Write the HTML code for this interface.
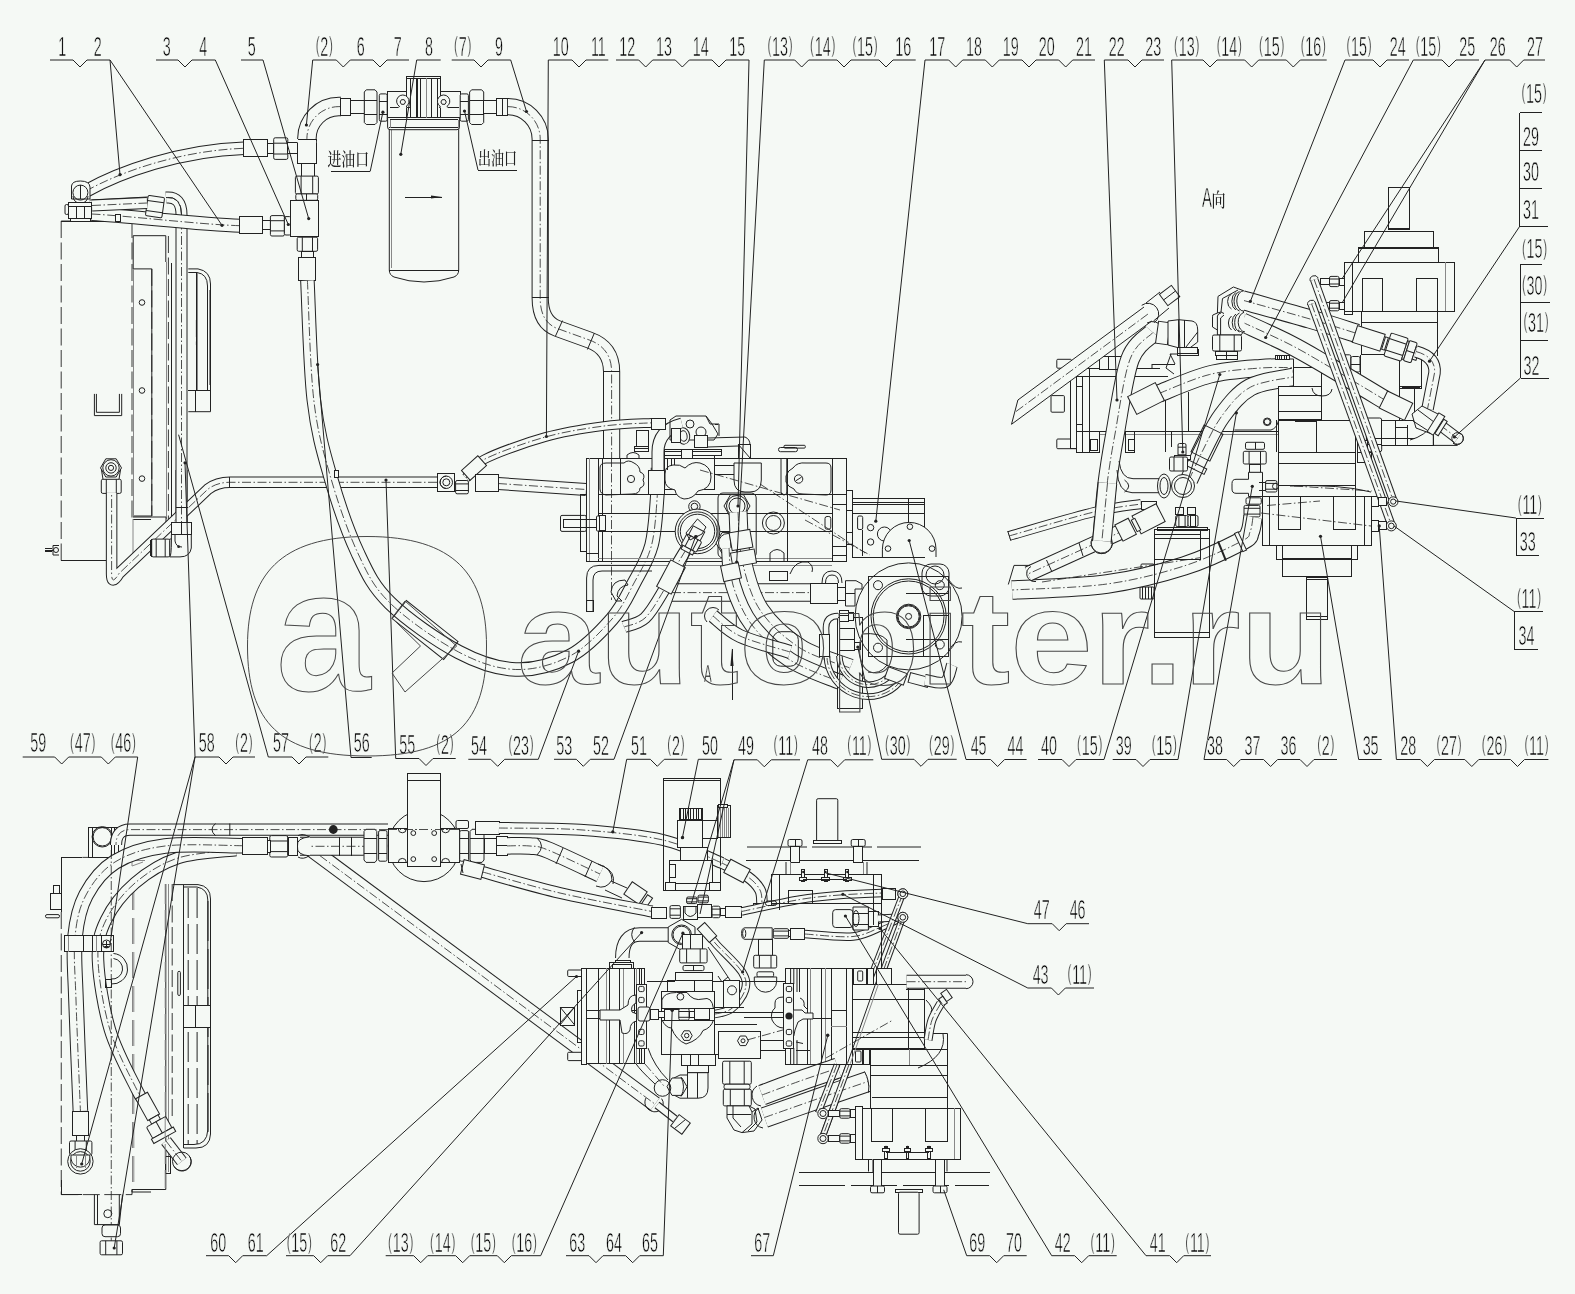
<!DOCTYPE html>
<html lang="zh"><head><meta charset="utf-8"><title>Hydraulic system diagram</title>
<style>
html,body{margin:0;padding:0;background:#f5f9f5;}
body{width:1575px;height:1294px;overflow:hidden;}
svg{display:block;will-change:transform;}
.s{fill:none;stroke:#222;stroke-width:1;}
.f{fill:#f5f9f5;stroke:#222;stroke-width:1;}
.t{fill:none;stroke:#222;stroke-linecap:butt;stroke-linejoin:round;}
.ti{fill:none;stroke:#f5f9f5;stroke-linecap:butt;stroke-linejoin:round;}
.c{fill:none;stroke:#222;stroke-width:.8;stroke-dasharray:9 2.5 1.5 2.5;}
.d{fill:none;stroke:#222;stroke-width:.9;stroke-dasharray:17 4.5;}
.g{fill:none;stroke:#888;stroke-width:1;}
.l{fill:none;stroke:#222;stroke-width:1;}
.dot{fill:#222;stroke:none;}
.n{font-family:"Liberation Sans",sans-serif;font-size:27px;fill:#000;stroke:#f5f9f5;stroke-width:.6px;text-anchor:middle;}
.z{font-family:"Liberation Sans","Noto Sans CJK SC",sans-serif;font-size:15px;fill:#222;stroke:#f5f9f5;stroke-width:.5px;}
.pn{font-size:22px;}
.zs{font-family:"Liberation Serif","Noto Serif CJK SC",serif;font-size:18px;font-weight:500;fill:#222;}
.wm{font-family:"Liberation Sans",sans-serif;font-weight:bold;font-size:133px;fill:none;stroke:#484848;stroke-width:1;}
.wl{fill:none;stroke:#484848;stroke-width:1;}
</style></head><body>
<svg width="1575" height="1294" viewBox="0 0 1575 1294">
<rect x="0" y="0" width="1575" height="1294" fill="#f5f9f5"/>
<g id="p_cooler_top">
<path class="d" d="M61.2 221L61.2 560.7"/>
<path class="s" shape-rendering="crispEdges" d="M61.2 560.7L106 560.7"/>
<path class="d" d="M61.2 221L132 221"/>
<path class="s" shape-rendering="crispEdges" d="M61.2 221L132 221"/>
<path class="d" d="M132 221L132 519"/>
<path class="s" d="M133.2 268.9L133.2 235.7L165.8 235.7L165.8 262"/>
<path class="s" d="M133.2 268.9L151.8 268.9L151.8 516L133.2 516"/>
<path class="g" shape-rendering="crispEdges" d="M133.2 268.9L133.2 516"/>
<path class="d" d="M151.8 268.9L151.8 516"/>
<circle class="s" cx="142" cy="302.5" r="2.8"/>
<circle class="s" cx="142" cy="390.5" r="2.8"/>
<circle class="s" cx="142" cy="478.6" r="2.8"/>
<path class="d" d="M168.4 236L168.4 519"/>
<path class="s" shape-rendering="crispEdges" d="M171.4 262.5L171.4 519"/>
<path class="g" shape-rendering="crispEdges" d="M166 262L166 519"/>
<path class="s" d="M133 517L166 517L166 535"/>
<path class="s" shape-rendering="crispEdges" d="M133 519.5L151 519.5"/>
<path class="g" d="M133 519L133 556L140 556"/>
<path class="s" d="M94.4 393.9L94.4 415.6L121.7 415.6L121.7 393.9"/>
<path class="s" d="M96.4 393.9L96.4 412.3L119.4 412.3L119.4 393.9"/>
<path class="s" d="M188.3 268.9L198 268.9Q210.5 271 210.5 284L210.5 411.7L188.3 411.7"/>
<path class="s" d="M188.3 272.5L197 272.5Q207.5 274 207.5 286L207.5 390"/>
<path class="s" shape-rendering="crispEdges" d="M196.4 272.5L196.4 390"/>
<path class="g" shape-rendering="crispEdges" d="M197.6 272.5L197.6 390"/>
<path class="s" shape-rendering="crispEdges" d="M188.3 390L210.5 390"/>
<path class="s" shape-rendering="crispEdges" d="M195 390L195 411.7"/>
<path class="g" shape-rendering="crispEdges" d="M209 290L209 385"/>
<path class="d" d="M196.4 320L196.4 345"/>
<path class="s" d="M59 545.5L53 545.5L53 555L59 555"/>
<circle class="s" cx="56" cy="550" r="2.5"/>
<path class="s" shape-rendering="crispEdges" d="M45 550L53 550"/>
<path class="s" d="M45 548.5L52 548.5M45 551.5L52 551.5"/>
<path class="t" stroke-width="12" d="M181.5 524L181.5 215Q181.5 196 166 197.5"/>
<path class="ti" stroke-width="10" d="M181.5 524L181.5 215Q181.5 196 166 197.5"/>
<path class="c" d="M181.5 524L181.5 215Q181.5 196 166 197.5"/>
<path class="s" shape-rendering="crispEdges" d="M175.5 227L187.5 227"/>
<path class="s" shape-rendering="crispEdges" d="M175.5 507L187.5 507"/>
<path class="t" stroke-width="9" d="M111.6 505L111.6 493"/>
<path class="ti" stroke-width="7" d="M111.6 505L111.6 493"/>
<path class="s" shape-rendering="crispEdges" d="M105.9 505L117.3 505"/>
<path class="f" d="M121.5 467.9L116.2 477L105.8 477L100.5 467.9L105.8 458.8L116.2 458.8Z"/>
<circle class="s" cx="111" cy="467.9" r="8.2"/>
<circle class="s" cx="111" cy="467.9" r="5.2"/>
<circle class="s" cx="111" cy="467.9" r="2.6"/>
<path class="s" d="M101.5 470L103 479.3M120.5 470L119 479.3"/>
<g transform="translate(111.3 486.3) rotate(90)"><rect class="f" x="-7" y="-9.9" width="14.1" height="19.9" rx="1.5"/><path class="s" d="M-7 -5L7 -5M-7 5L7 5"/></g>
<path class="t" stroke-width="11.5" d="M437 482.3L230 482.3Q217 482.3 208 489.1L119 573.5Q111.6 586 111.6 574L111.6 493"/>
<path class="ti" stroke-width="9.5" d="M437 482.3L230 482.3Q217 482.3 208 489.1L119 573.5Q111.6 586 111.6 574L111.6 493"/>
<path class="c" d="M437 482.3L230 482.3Q217 482.3 208 489.1L119 573.5Q111.6 586 111.6 574L111.6 493"/>
<path class="t" stroke-width="12" d="M181.5 530L181.5 470"/>
<path class="ti" stroke-width="10" d="M181.5 530L181.5 470"/>
<path class="c" d="M181.5 530L181.5 470"/>
<path class="s" shape-rendering="crispEdges" d="M175.5 507L187.5 507"/>
<path class="s" shape-rendering="crispEdges" d="M229 476.5L229 488"/>
<rect class="f" shape-rendering="crispEdges" x="171.4" y="522" width="20" height="12.7"/>
<path class="s" shape-rendering="crispEdges" d="M181 522L181 534.7"/>
<path class="f" d="M171.4 534.7L171.4 540Q171.4 556.9 169.6 556.9L169.6 539L171.4 539M191.3 534.7L191.3 548Q190 556.9 180 556.9L169.6 556.9"/>
<path class="s" d="M175 534.7L175 541Q176 547 182 547"/>
<circle class="dot" cx="178.6" cy="546.7" r="1.4"/>
<g transform="translate(160.7 548) rotate(90)"><rect class="f" x="-8.9" y="-9" width="17.8" height="18" rx="1.5"/><path class="s" d="M-8.9 -4.5L8.9 -4.5M-8.9 4.5L8.9 4.5"/></g>
<path class="s" shape-rendering="crispEdges" d="M151.8 539L151.8 557"/>
<path class="s" shape-rendering="crispEdges" d="M150 540L150 556"/>
<rect class="f" shape-rendering="crispEdges" x="437.8" y="473.4" width="17" height="17.8"/>
<circle class="s" cx="446.3" cy="482.3" r="6.2"/>
<circle class="s" cx="446.3" cy="482.3" r="3.5"/>
<path class="s" d="M446.3 476A6.2 6.2 0 0 0 446.3 488.5"/>
<g transform="translate(462 487.2) rotate(0)"><rect class="f" x="-6.4" y="-6.7" width="12.8" height="13.3" rx="1.5"/><path class="s" d="M-6.4 -3.3L6.4 -3.3M-6.4 3.3L6.4 3.3"/></g>
<rect class="s" shape-rendering="crispEdges" x="334" y="470" width="3.5" height="6.5"/>
<path class="t" stroke-width="13.5" d="M86 191C120 172 180 150.5 244 148.3"/>
<path class="ti" stroke-width="11.5" d="M86 191C120 172 180 150.5 244 148.3"/>
<path class="c" d="M86 191C120 172 180 150.5 244 148.3"/>
<rect class="f" shape-rendering="crispEdges" x="243.6" y="139.8" width="24.3" height="17.1"/>
<rect class="f" shape-rendering="crispEdges" x="267.9" y="143.5" width="5.8" height="9.7"/>
<g transform="translate(280.7 148.6) rotate(0)"><rect class="f" x="-7" y="-10.8" width="14.1" height="21.6" rx="1.5"/><path class="s" d="M-7 -5.4L7 -5.4M-7 5.4L7 5.4"/></g>
<path class="t" stroke-width="12" d="M90 205.5L148 202.5"/>
<path class="ti" stroke-width="10" d="M90 205.5L148 202.5"/>
<path class="c" d="M90 205.5L148 202.5"/>
<path class="t" stroke-width="14" d="M91.8 214C130 216 200 224.5 240 225.7"/>
<path class="ti" stroke-width="12" d="M91.8 214C130 216 200 224.5 240 225.7"/>
<path class="c" d="M91.8 214C130 216 200 224.5 240 225.7"/>
<rect class="f" shape-rendering="crispEdges" x="239.8" y="216.8" width="23" height="16.6"/>
<rect class="f" shape-rendering="crispEdges" x="262.8" y="220.5" width="7.6" height="9.2"/>
<g transform="translate(277.4 225.8) rotate(0)"><rect class="f" x="-7" y="-10.2" width="14" height="20.4" rx="1.5"/><path class="s" d="M-7 -5.1L7 -5.1M-7 5.1L7 5.1"/></g>
<rect class="f" x="284.4" y="216.6" width="6.4" height="18.4" rx="1.5"/>
<path class="s" d="M166 197.5Q181.5 196 181.5 215"/>
<g transform="translate(155 206.6) rotate(8)"><rect class="f" x="-8.3" y="-10.2" width="16.6" height="20.4" rx="1.5"/><path class="s" d="M-8.3 -5.1L8.3 -5.1M-8.3 5.1L8.3 5.1"/></g>
<path class="t" stroke-width="12" d="M92 205.5L147 203"/>
<path class="ti" stroke-width="10" d="M92 205.5L147 203"/>
<path class="c" d="M92 205.5L147 203"/>
<path class="f" d="M71.5 186Q72 181 80.4 181Q89.5 181 90 187L90 199L71.5 199Z"/>
<circle class="s" cx="80.4" cy="192.6" r="7.5"/>
<path class="s" d="M73 196A7.5 7.5 0 0 0 88 196"/>
<path class="s" shape-rendering="crispEdges" d="M80.4 185L80.4 199"/>
<rect class="f" shape-rendering="crispEdges" x="68.5" y="202.8" width="23.3" height="15.3"/>
<path class="s" shape-rendering="crispEdges" d="M68.5 206.5L91.8 206.5"/>
<path class="s" shape-rendering="crispEdges" d="M76 206.5L76 218"/>
<path class="s" shape-rendering="crispEdges" d="M84 206.5L84 218"/>
<rect class="f" x="65" y="204.5" width="3.5" height="10" rx="1.5"/>
<rect class="f" shape-rendering="crispEdges" x="70" y="218" width="20" height="3"/>
<rect class="f" shape-rendering="crispEdges" x="115" y="214" width="5" height="7"/>
<path class="t" stroke-width="19.5" d="M306.9 142L306.9 138.6A32 32 0 0 1 338.9 106.6L341 106.6"/>
<path class="ti" stroke-width="17.5" d="M306.9 142L306.9 138.6A32 32 0 0 1 338.9 106.6L341 106.6"/>
<path class="c" d="M306.9 142L306.9 138.6A32 32 0 0 1 338.9 106.6L341 106.6"/>
<rect class="f" shape-rendering="crispEdges" x="340.6" y="98.2" width="10.2" height="17.1"/>
<rect class="f" shape-rendering="crispEdges" x="350.8" y="100" width="13.5" height="13.5"/>
<path class="f" d="M366.3 89.8L375 89.8L377 92L377 122.5L375 124.5L366.3 124.5L364.3 122.5L364.3 92Z"/>
<path class="s" shape-rendering="crispEdges" d="M364.3 100L377 100"/>
<path class="s" shape-rendering="crispEdges" d="M364.3 114.5L377 114.5"/>
<rect class="f" x="379.3" y="93.9" width="7.9" height="27.3" rx="1.5"/>
<path class="s" shape-rendering="crispEdges" d="M379.3 101L387.2 101"/>
<path class="s" shape-rendering="crispEdges" d="M379.3 114L387.2 114"/>
<path class="s" d="M297.2 142.9L287.8 142.9M297.2 153L287.8 153"/>
<rect class="f" shape-rendering="crispEdges" x="287.8" y="142.9" width="9.4" height="10.1"/>
<rect class="f" shape-rendering="crispEdges" x="297.2" y="139" width="19.1" height="24.3"/>
<path class="ti" d="M297.2 142L316.3 142"/>
<path class="ti" shape-rendering="crispEdges" d="M297.2 139L297.2 142"/>
<rect class="f" shape-rendering="crispEdges" x="301" y="163.3" width="13.3" height="12.7"/>
<g transform="translate(306.9 185) rotate(90)"><rect class="f" x="-8.9" y="-11.5" width="17.9" height="23" rx="1.5"/><path class="s" d="M-8.9 -5.8L8.9 -5.8M-8.9 5.8L8.9 5.8"/></g>
<rect class="f" x="295.8" y="193.9" width="21.9" height="6.4" rx="1.5"/>
<path class="s" shape-rendering="crispEdges" d="M306.9 193.9L306.9 200.3"/>
<rect class="f" shape-rendering="crispEdges" x="290.8" y="200.3" width="28.1" height="35.7"/>
<g transform="translate(307.4 244.2) rotate(90)"><rect class="f" x="-7" y="-10.2" width="14.1" height="20.4" rx="1.5"/><path class="s" d="M-7 -5.1L7 -5.1M-7 5.1L7 5.1"/></g>
<rect class="f" shape-rendering="crispEdges" x="301" y="251.3" width="12.8" height="6.4"/>
<rect class="f" shape-rendering="crispEdges" x="298.5" y="257.7" width="17.3" height="22.9"/>
<path class="t" stroke-width="14.5" d="M307.4 280.6C308.5 300.5 310 367.4 313.8 400C317.6 432.6 323.1 451 330.4 476.5C337.7 502 347.9 531.9 357.8 553C367.7 574.1 373.2 586.5 390 603C406.8 619.5 437.7 640.9 458.6 652C479.6 663.1 497.1 668.8 515.7 669.5C534.3 670.2 554 664.4 570 656C586 647.6 601.3 631.2 612 619C622.7 606.8 627.4 595.3 634 583C640.6 570.7 647.7 560 651.6 545C655.5 530 656.4 505.8 657.5 493C658.6 480.2 657.9 472.2 658 468"/>
<path class="ti" stroke-width="12.5" d="M307.4 280.6C308.5 300.5 310 367.4 313.8 400C317.6 432.6 323.1 451 330.4 476.5C337.7 502 347.9 531.9 357.8 553C367.7 574.1 373.2 586.5 390 603C406.8 619.5 437.7 640.9 458.6 652C479.6 663.1 497.1 668.8 515.7 669.5C534.3 670.2 554 664.4 570 656C586 647.6 601.3 631.2 612 619C622.7 606.8 627.4 595.3 634 583C640.6 570.7 647.7 560 651.6 545C655.5 530 656.4 505.8 657.5 493C658.6 480.2 657.9 472.2 658 468"/>
<path class="c" d="M307.4 280.6C308.5 300.5 310 367.4 313.8 400C317.6 432.6 323.1 451 330.4 476.5C337.7 502 347.9 531.9 357.8 553C367.7 574.1 373.2 586.5 390 603C406.8 619.5 437.7 640.9 458.6 652C479.6 663.1 497.1 668.8 515.7 669.5C534.3 670.2 554 664.4 570 656C586 647.6 601.3 631.2 612 619C622.7 606.8 627.4 595.3 634 583C640.6 570.7 647.7 560 651.6 545C655.5 530 656.4 505.8 657.5 493C658.6 480.2 657.9 472.2 658 468"/>
<rect class="s" x="-33" y="-11.5" width="66" height="23" transform="translate(425 630) rotate(38.5)"/>
<rect class="f" shape-rendering="crispEdges" x="334" y="470" width="4" height="7"/>
</g>
<g id="p_filter_top">
<path class="f" d="M389.3 127.5L389.3 270Q389.3 275 394 277Q424 287 454 277Q458.7 275 458.7 270L458.7 127.5"/>
<path class="s" shape-rendering="crispEdges" d="M389.3 270.4L458.7 270.4"/>
<path class="g" shape-rendering="crispEdges" d="M391 128L391 268"/>
<path class="s" shape-rendering="crispEdges" d="M405.4 197L442.3 197"/>
<path class="dot" d="M431 195.6L442.3 197L431 198.4Z"/>
<rect class="f" shape-rendering="crispEdges" x="387.5" y="91.8" width="72.7" height="25.7"/>
<path class="f" d="M387.6 117.5L459.4 117.5L459.4 127Q459.4 129.7 457 129.7L390 129.7Q387.6 129.7 387.6 127Z"/>
<path class="s" shape-rendering="crispEdges" d="M390 119.5L458 119.5"/>
<path class="s" shape-rendering="crispEdges" d="M388.5 127.6L458.5 127.6"/>
<path class="g" shape-rendering="crispEdges" d="M390 119.5L390 127.6"/>
<path class="g" shape-rendering="crispEdges" d="M458 119.5L458 127.6"/>
<rect class="f" shape-rendering="crispEdges" x="406.7" y="76" width="33.6" height="41.5"/>
<path class="s" shape-rendering="crispEdges" d="M406.7 78.3L440.3 78.3"/>
<path class="s" shape-rendering="crispEdges" d="M410.5 78.3L410.5 117.5"/>
<path class="s" shape-rendering="crispEdges" d="M416.2 78.3L416.2 117.5"/>
<path class="s" shape-rendering="crispEdges" d="M417.6 78.3L417.6 117.5"/>
<path class="s" shape-rendering="crispEdges" d="M420.6 78.3L420.6 117.5"/>
<path class="s" shape-rendering="crispEdges" d="M431.7 78.3L431.7 117.5"/>
<path class="s" shape-rendering="crispEdges" d="M437.5 78.3L437.5 117.5"/>
<path class="g" shape-rendering="crispEdges" d="M426.7 78.3L426.7 117.5"/>
<path class="s" shape-rendering="crispEdges" d="M389.5 107.5L398.2 107.5"/>
<path class="s" shape-rendering="crispEdges" d="M407.4 107.5L410.4 107.5"/>
<path class="s" shape-rendering="crispEdges" d="M440.3 107.5L439 107.5"/>
<path class="s" shape-rendering="crispEdges" d="M448.2 107.5L458.7 107.5"/>
<path class="f" d="M398.2 107.5L399.6 106.5A6.2 6.2 0 1 1 406.0 106.5L407.40000000000003 107.5"/>
<path class="s" d="M405.5 102L404.2 104.3L401.4 104.3L400.1 102L401.4 99.7L404.2 99.7Z"/>
<path class="f" d="M439.0 107.5L440.40000000000003 106.5A6.2 6.2 0 1 1 446.8 106.5L448.20000000000005 107.5"/>
<path class="s" d="M446.3 102L445 104.3L442.2 104.3L440.9 102L442.2 99.7L445 99.7Z"/>
<rect class="f" x="460.2" y="93.9" width="8.2" height="27.3" rx="1.5"/>
<path class="s" shape-rendering="crispEdges" d="M460.2 101L468.4 101"/>
<path class="s" shape-rendering="crispEdges" d="M460.2 114L468.4 114"/>
<path class="f" d="M471.6 89.8L481.7 89.8L483.7 92L483.7 122.5L481.7 124.5L471.6 124.5L469.6 122.5L469.6 92Z"/>
<path class="s" shape-rendering="crispEdges" d="M469.6 100L483.7 100"/>
<path class="s" shape-rendering="crispEdges" d="M469.6 114.5L483.7 114.5"/>
<rect class="f" shape-rendering="crispEdges" x="483.7" y="100" width="12.7" height="13.5"/>
<rect class="f" shape-rendering="crispEdges" x="496.4" y="98.2" width="11.5" height="17.1"/>
<path class="s" shape-rendering="crispEdges" d="M502 98.2L502 115.3"/>
<path class="t" stroke-width="17.2" d="M507.9 106.6A32.3 32.3 0 0 1 540.2 138.9L540.2 298Q540.2 322.3 557.4 328.5L589.3 340Q611.6 348 611.6 371.8L611.6 458"/>
<path class="ti" stroke-width="15.2" d="M507.9 106.6A32.3 32.3 0 0 1 540.2 138.9L540.2 298Q540.2 322.3 557.4 328.5L589.3 340Q611.6 348 611.6 371.8L611.6 458"/>
<path class="c" d="M507.9 106.6A32.3 32.3 0 0 1 540.2 138.9L540.2 298Q540.2 322.3 557.4 328.5L589.3 340Q611.6 348 611.6 371.8L611.6 458"/>
<path class="s" shape-rendering="crispEdges" d="M531.6 140.3L548.8 140.3"/>
<path class="s" shape-rendering="crispEdges" d="M531.6 297.9L548.8 297.9"/>
<path class="s" d="M555.5 336L562.5 320.6"/>
<path class="s" d="M587.4 349.5L594.4 333"/>
<path class="s" shape-rendering="crispEdges" d="M603 371.8L620.2 371.8"/>
<path class="l" shape-rendering="crispEdges" d="M330.6 171.4L370.2 171.4"/>
<path class="l" d="M370.2 171.4L382.9 112.2"/>
<circle class="dot" cx="382.9" cy="112.2" r="1.6"/>
<path class="l" shape-rendering="crispEdges" d="M478 170L516.8 170"/>
<path class="l" d="M478 170L464.5 111"/>
<circle class="dot" cx="464.5" cy="111" r="1.6"/>
</g>
<g id="p_pump_top">
<path class="t" stroke-width="9.8" d="M466 478C469 474.9 470.8 466.3 484 459.5C497.2 452.7 525.4 442.6 545.4 437C565.4 431.4 586.2 428.4 604 426C621.8 423.6 644 423.3 652 422.8"/>
<path class="ti" stroke-width="7.8" d="M466 478C469 474.9 470.8 466.3 484 459.5C497.2 452.7 525.4 442.6 545.4 437C565.4 431.4 586.2 428.4 604 426C621.8 423.6 644 423.3 652 422.8"/>
<path class="c" d="M466 478C469 474.9 470.8 466.3 484 459.5C497.2 452.7 525.4 442.6 545.4 437C565.4 431.4 586.2 428.4 604 426C621.8 423.6 644 423.3 652 422.8"/>
<rect class="f" x="-11" y="-6.5" width="22" height="13" transform="translate(474 468) rotate(-42)"/>
<path class="t" stroke-width="13" d="M498 483.5L586 489.5"/>
<path class="ti" stroke-width="11" d="M498 483.5L586 489.5"/>
<path class="c" d="M498 483.5L586 489.5"/>
<rect class="f" shape-rendering="crispEdges" x="475.8" y="474" width="22.4" height="17"/>
<rect class="f" shape-rendering="crispEdges" x="586.3" y="458" width="12" height="103.4"/>
<path class="g" shape-rendering="crispEdges" d="M589 458L589 561.4"/>
<rect class="s" shape-rendering="crispEdges" x="586.3" y="553" width="12" height="8.4"/>
<path class="s" shape-rendering="crispEdges" d="M598.3 458L832 458"/>
<path class="s" shape-rendering="crispEdges" d="M598.3 561.4L832 561.4"/>
<path class="s" shape-rendering="crispEdges" d="M598.3 494.4L832 494.4"/>
<path class="s" shape-rendering="crispEdges" d="M598.3 513.5L832 513.5"/>
<path class="s" shape-rendering="crispEdges" d="M598.3 531.4L832 531.4"/>
<path class="g" shape-rendering="crispEdges" d="M598.3 558.4L832 558.4"/>
<path class="s" shape-rendering="crispEdges" d="M602.5 458L602.5 561.4"/>
<path class="s" shape-rendering="crispEdges" d="M620.4 458L620.4 494"/>
<path class="c" d="M611.5 458L611.5 600"/>
<rect class="f" x="560.5" y="515.4" width="25.8" height="16" rx="1.5"/>
<rect class="s" shape-rendering="crispEdges" x="563.5" y="519.5" width="36" height="8"/>
<rect class="f" x="596.5" y="516" width="4" height="15" rx="1"/>
<rect class="f" shape-rendering="crispEdges" x="599.3" y="515.4" width="5.7" height="15.3"/>
<rect class="s" shape-rendering="crispEdges" x="580" y="494.4" width="6.3" height="57"/>
<path class="s" d="M600 468Q600 463 606 463L624 463Q628 459 634 463Q640 466 640 472Q646 474 643 480Q646 486 640 488Q640 494 632 494L606 495Q600 494 600 489Z"/>
<circle class="s" cx="631" cy="479" r="3.6"/>
<path class="s" d="M627 458L627 455Q633 450 639 455L639 458"/>
<rect class="f" shape-rendering="crispEdges" x="648.4" y="470" width="16" height="24.4"/>
<path class="t" stroke-width="13" d="M658 470L658 452Q658 430 682 424"/>
<path class="ti" stroke-width="11" d="M658 470L658 452Q658 430 682 424"/>
<rect class="f" shape-rendering="crispEdges" x="651" y="418.4" width="14.5" height="10.8"/>
<rect class="s" shape-rendering="crispEdges" x="664.4" y="455.5" width="50.4" height="33.8"/>
<path class="f" d="M665 474Q665 466 673 465Q680 464 685 468Q692 461 700 463Q711 466 711 477Q711 489 698 491Q693 499 684 499Q676 497 675 490Q665 488 665 480Z"/>
<path class="s" shape-rendering="crispEdges" d="M667 458L667 470"/>
<path class="s" shape-rendering="crispEdges" d="M671 458L671 466"/>
<path class="s" shape-rendering="crispEdges" d="M674.5 458L674.5 465"/>
<rect class="f" shape-rendering="crispEdges" x="636" y="430" width="12" height="16"/>
<rect class="f" shape-rendering="crispEdges" x="634" y="446" width="14" height="5"/>
<path class="s" shape-rendering="crispEdges" d="M634 448L648 448"/>
<path class="s" d="M670 420L676 416L706 416L712 424L718 434L714 440L670 440Z"/>
<ellipse class="f" cx="683.5" cy="436" rx="6.2" ry="8.2" transform="rotate(-8 683.5 436)"/>
<ellipse class="s" cx="683.5" cy="436" rx="3.6" ry="5.2" transform="rotate(-8 683.5 436)"/>
<rect class="f" shape-rendering="crispEdges" x="671" y="428" width="9" height="14"/>
<circle class="s" cx="690" cy="424" r="4"/>
<circle class="s" cx="701" cy="432" r="5"/>
<rect class="f" shape-rendering="crispEdges" x="694.5" y="435" width="13" height="12"/>
<rect class="f" shape-rendering="crispEdges" x="664.4" y="449" width="57" height="6.5"/>
<path class="s" shape-rendering="crispEdges" d="M664.4 451.5L721 451.5"/>
<rect class="f" shape-rendering="crispEdges" x="681" y="449" width="11" height="9"/>
<path class="s" d="M708 438L745 437Q750 439 750 445L750 458M708 447L738 446"/>
<rect class="f" shape-rendering="crispEdges" x="738" y="444" width="12" height="14"/>
<path class="s" d="M738 444L750 458"/>
<path class="s" shape-rendering="crispEdges" d="M715 424L718 424"/>
<path class="s" d="M706 416L710 424L719 424L719 436"/>
<path class="f" d="M734 463L761.3 463L761.3 480Q761.3 492 750 492L745 492Q734 492 734 480Z"/>
<path class="s" shape-rendering="crispEdges" d="M714.8 465L734 465"/>
<path class="s" shape-rendering="crispEdges" d="M714.8 474L734 474"/>
<circle class="s" cx="694.4" cy="506.5" r="5.7"/>
<circle class="s" cx="694.4" cy="506.5" r="3.3"/>
<circle class="f" cx="697.5" cy="531.4" r="22.3"/>
<circle class="s" cx="697.5" cy="531.4" r="19.5"/>
<circle class="s" cx="697.5" cy="531.4" r="17.2"/>
<rect class="s" x="718" y="493" width="38.2" height="65" rx="5"/>
<path class="f" d="M750 506L743.5 517.3L730.5 517.3L724 506L730.5 494.7L743.5 494.7Z"/>
<circle class="s" cx="737" cy="506" r="10.5"/>
<circle class="s" cx="737" cy="506" r="8"/>
<path class="f" d="M740 543L734 553.4L722 553.4L716 543L722 532.6L734 532.6Z"/>
<circle class="s" cx="728" cy="543" r="9.5"/>
<circle class="s" cx="773.4" cy="523" r="11"/>
<circle class="s" cx="773.4" cy="523" r="7.5"/>
<path class="s" shape-rendering="crispEdges" d="M787.4 458L787.4 561.4"/>
<path class="s" d="M781 458L781 492Q781 495 784 495Q786.8 495 786.8 492L786.8 458"/>
<path class="s" d="M786 476Q788 470 793 468Q797 462 806 463L826 463Q831 463 831 468L831 490Q831 495 826 495L803 494Q796 494 794 489Q788 487 786 482Z"/>
<circle class="s" cx="798.6" cy="479" r="4.2"/>
<path class="s" d="M795.5 481L801.7 477"/>
<rect class="s" x="778.5" y="447.5" width="19" height="4.2" rx="2"/>
<rect class="s" x="784" y="445.3" width="21.3" height="2.8" rx="1"/>
<rect class="f" shape-rendering="crispEdges" x="832" y="458" width="14.7" height="103.4"/>
<path class="s" shape-rendering="crispEdges" d="M832 494.4L846.7 494.4"/>
<path class="s" shape-rendering="crispEdges" d="M832 504L846.7 504"/>
<path class="s" shape-rendering="crispEdges" d="M832 546L846.7 546"/>
<path class="s" shape-rendering="crispEdges" d="M832 555L846.7 555"/>
<rect class="f" x="825" y="516.5" width="5.8" height="12.7" rx="2"/>
<rect class="f" shape-rendering="crispEdges" x="846.7" y="490" width="5.8" height="54"/>
<path class="s" shape-rendering="crispEdges" d="M846.7 510L852.5 510"/>
<path class="s" shape-rendering="crispEdges" d="M846.7 532L852.5 532"/>
<rect class="f" shape-rendering="crispEdges" x="852.5" y="498.2" width="72" height="58.8"/>
<path class="s" shape-rendering="crispEdges" d="M852.5 502L924.5 502"/>
<path class="s" shape-rendering="crispEdges" d="M852.5 504L924.5 504"/>
<path class="s" shape-rendering="crispEdges" d="M852.5 513.5L924.5 513.5"/>
<path class="s" shape-rendering="crispEdges" d="M908.6 498.2L908.6 522"/>
<rect class="f" x="857.6" y="516" width="5.1" height="13.5" rx="1.5"/>
<path class="s" shape-rendering="crispEdges" d="M862.7 529.5L862.7 556"/>
<circle class="s" cx="870.6" cy="527.6" r="3.2"/>
<circle class="s" cx="870.6" cy="542" r="3.2"/>
<circle class="s" cx="884.4" cy="534" r="7"/>
<path class="f" d="M882.4 557L882.4 549.2A26.8 26.8 0 0 1 936 549.2L936 557"/>
<circle class="s" cx="909.9" cy="526.7" r="2.8"/>
<circle class="s" cx="888" cy="548.6" r="2.8"/>
<circle class="s" cx="932" cy="548.6" r="2.8"/>
<path class="c" d="M700 470L840 510"/>
<path class="c" d="M760 484L865 553"/>
<path class="c" d="M805 520L870 555"/>
<path class="g" shape-rendering="crispEdges" d="M598.3 565L832 565"/>
<path class="s" d="M593 611.3L593 580Q593 571 602 571L652 571M586.6 611.3L586.6 578Q586.6 565.4 599 565.4L652 565.4"/>
<rect class="s" shape-rendering="crispEdges" x="586.6" y="600" width="6.4" height="11.3"/>
<path class="s" d="M611 592Q612 580 625 580L628 585Q618 586 617 596L622 601L616 601Z"/>
<path class="s" d="M770 561L770 553Q777 546 784 553L784 561"/>
<rect class="s" shape-rendering="crispEdges" x="769" y="571" width="18" height="9"/>
<path class="s" d="M790 574Q795 560 808 562Q814 566 812 572"/>
<path class="t" stroke-width="18.5" d="M672 592.6L810 592.6"/>
<path class="ti" stroke-width="16.5" d="M672 592.6L810 592.6"/>
<path class="c" d="M672 592.6L810 592.6"/>
<rect class="f" shape-rendering="crispEdges" x="810.4" y="583.3" width="27.4" height="20.4"/>
<rect class="f" shape-rendering="crispEdges" x="837.8" y="587" width="7.7" height="13"/>
<path class="f" d="M845.5 580.7L856 580.7L862 584L862 589L855 589L855 606L845.5 606Z"/>
<path class="s" shape-rendering="crispEdges" d="M845.5 593L855 593"/>
<path class="s" d="M822 583Q822 571 832 571Q842 571 842 583M825.5 583Q825.5 575 832 575Q838.5 575 838.5 583"/>
<path class="t" stroke-width="12.5" d="M694 537C691.3 541.3 683 554.2 678 563C673 571.8 669.5 580.8 664 590C658.5 599.2 651.7 611.8 645 618C638.3 624.2 627.5 625.5 624 627"/>
<path class="ti" stroke-width="10.5" d="M694 537C691.3 541.3 683 554.2 678 563C673 571.8 669.5 580.8 664 590C658.5 599.2 651.7 611.8 645 618C638.3 624.2 627.5 625.5 624 627"/>
<path class="c" d="M694 537C691.3 541.3 683 554.2 678 563C673 571.8 669.5 580.8 664 590C658.5 599.2 651.7 611.8 645 618C638.3 624.2 627.5 625.5 624 627"/>
<rect class="f" x="-15" y="-8.2" width="30" height="16.5" transform="translate(671 577) rotate(118)"/>
<g transform="translate(699 529) rotate(118)">
<rect class="f" x="0" y="-6.5" width="10" height="13"/>
<rect class="f" x="10" y="-8.5" width="12" height="17" rx="1.5"/>
<path class="s" d="M10 -4.2L22 -4.2M10 4.2L22 4.2"/>
<rect class="f" x="22" y="-6.5" width="4" height="13"/>
</g>
<path class="s" d="M697.5 519L706 527L702 534L690 540L686 533Z"/>
<circle class="dot" cx="696.5" cy="536.5" r="1.3"/>
<path class="t" stroke-width="19" d="M738 512C738.7 520 738.3 543.7 742 560C745.7 576.3 750.3 595.3 760 610C769.7 624.7 785 638.3 800 648C815 657.7 841.7 664.7 850 668"/>
<path class="ti" stroke-width="17" d="M738 512C738.7 520 738.3 543.7 742 560C745.7 576.3 750.3 595.3 760 610C769.7 624.7 785 638.3 800 648C815 657.7 841.7 664.7 850 668"/>
<path class="c" d="M738 512C738.7 520 738.3 543.7 742 560C745.7 576.3 750.3 595.3 760 610C769.7 624.7 785 638.3 800 648C815 657.7 841.7 664.7 850 668"/>
<path class="t" stroke-width="16" d="M729 548C729.7 554.2 729.2 572.2 733 585C736.8 597.8 742.5 612.5 752 625C761.5 637.5 775.3 650.5 790 660C804.7 669.5 831.7 678.3 840 682"/>
<path class="ti" stroke-width="14" d="M729 548C729.7 554.2 729.2 572.2 733 585C736.8 597.8 742.5 612.5 752 625C761.5 637.5 775.3 650.5 790 660C804.7 669.5 831.7 678.3 840 682"/>
<path class="c" d="M729 548C729.7 554.2 729.2 572.2 733 585C736.8 597.8 742.5 612.5 752 625C761.5 637.5 775.3 650.5 790 660C804.7 669.5 831.7 678.3 840 682"/>
<rect class="f" x="-9" y="-10.5" width="18" height="21" transform="translate(741 540) rotate(80)"/>
<rect class="f" x="-7" y="-12" width="14" height="24" transform="translate(743.5 558) rotate(80)"/>
<rect class="f" x="-8" y="-9" width="16" height="18" transform="translate(731 572) rotate(78)"/>
<path class="t" stroke-width="14" d="M713 616C717.5 619.3 727.2 630 740 636C752.8 642 781.7 649.3 790 652"/>
<path class="ti" stroke-width="12" d="M713 616C717.5 619.3 727.2 630 740 636C752.8 642 781.7 649.3 790 652"/>
<path class="c" d="M713 616C717.5 619.3 727.2 630 740 636C752.8 642 781.7 649.3 790 652"/>
<path class="s" d="M707 622A8 8 0 0 1 719 610"/>
<rect class="s" x="772.8" y="631.7" width="25.5" height="34.5" rx="8"/>
<rect class="f" shape-rendering="crispEdges" x="868.4" y="576.3" width="80.4" height="79.7"/>
<circle class="s" cx="908.6" cy="616.4" r="53.5"/>
<circle class="f" cx="908.6" cy="616.4" r="37.6"/>
<circle class="s" cx="908.6" cy="616.4" r="35.4"/>
<circle class="f" cx="908.6" cy="616.4" r="12.2"/>
<circle class="s" cx="908.6" cy="616.4" r="10.6"/>
<circle class="s" cx="908.6" cy="616.4" r="11.4"/>
<circle class="s" cx="908.6" cy="616.4" r="3"/>
<circle class="s" cx="878" cy="585.2" r="4.5"/>
<circle class="s" cx="939.8" cy="585.2" r="4.5"/>
<circle class="s" cx="878" cy="647.7" r="4.5"/>
<circle class="s" cx="939.8" cy="644.5" r="4.5"/>
<rect class="s" x="922" y="564" width="27" height="32" rx="9"/>
<path class="s" shape-rendering="crispEdges" d="M906 593.5L949 593.5"/>
<path class="s" shape-rendering="crispEdges" d="M906 639L949 639"/>
<rect class="s" shape-rendering="crispEdges" x="923.5" y="615" width="25" height="41"/>
<path class="s" d="M862 634Q880 632 887 640L887 665Q880 675 868 672"/>
<path class="s" d="M948.8 580Q956 590 962 588M948.8 650Q955 640 962 642"/>
<circle class="s" cx="935" cy="575" r="9"/>
<rect class="s" shape-rendering="crispEdges" x="837.6" y="617" width="25.1" height="91.3"/>
<rect class="f" shape-rendering="crispEdges" x="839.5" y="610" width="9" height="11"/>
<rect class="f" shape-rendering="crispEdges" x="848.5" y="612" width="4.5" height="8"/>
<path class="s" shape-rendering="crispEdges" d="M839.5 615.5L848.5 615.5"/>
<rect class="f" shape-rendering="crispEdges" x="839.5" y="628" width="15" height="22"/>
<path class="s" shape-rendering="crispEdges" d="M839.5 639L854.5 639"/>
<rect class="f" shape-rendering="crispEdges" x="854.5" y="642" width="6" height="7"/>
<path class="t" stroke-width="6.6" d="M826.9 656A41.5 41.5 0 0 0 900 682"/>
<path class="ti" stroke-width="4.6" d="M826.9 656A41.5 41.5 0 0 0 900 682"/>
<path class="c" d="M826.9 656A41.5 41.5 0 0 0 900 682"/>
<path class="t" stroke-width="6.5" d="M839.4 656A29 29 0 0 0 893 671"/>
<path class="ti" stroke-width="4.5" d="M839.4 656A29 29 0 0 0 893 671"/>
<path class="c" d="M839.4 656A29 29 0 0 0 893 671"/>
<path class="t" stroke-width="6.6" d="M826.9 658L826 628Q826 616 838 616"/>
<path class="ti" stroke-width="4.6" d="M826.9 658L826 628Q826 616 838 616"/>
<rect class="f" shape-rendering="crispEdges" x="819" y="634" width="10" height="22"/>
<rect class="f" x="-6" y="-10" width="12" height="20" transform="translate(896 676) rotate(-70)"/>
<rect class="f" x="-5" y="-10" width="10" height="20" transform="translate(919 680) rotate(-75)"/>
<path class="t" stroke-width="12" d="M925 680C928.3 680.3 940.5 684.5 945 682C949.5 679.5 950.8 667.8 952 665"/>
<path class="ti" stroke-width="10" d="M925 680C928.3 680.3 940.5 684.5 945 682C949.5 679.5 950.8 667.8 952 665"/>
</g>
<g id="p_right_top">
<rect class="f" x="1056.8" y="359.3" width="14.6" height="8.9" rx="1"/>
<rect class="f" x="1051" y="395.6" width="13.4" height="16.6" rx="1"/>
<rect class="f" x="1056.8" y="439" width="19.7" height="9.7" rx="1"/>
<rect class="f" shape-rendering="crispEdges" x="1070.8" y="376.5" width="6" height="72"/>
<path class="s" shape-rendering="crispEdges" d="M1076.5 376.5L1076.5 452"/>
<path class="s" shape-rendering="crispEdges" d="M1082.3 376.5L1082.3 452"/>
<path class="s" shape-rendering="crispEdges" d="M1089.3 368.9L1089.3 452"/>
<path class="s" shape-rendering="crispEdges" d="M1076.5 386L1082.3 386"/>
<path class="s" shape-rendering="crispEdges" d="M1076.5 424L1082.3 424"/>
<path class="s" shape-rendering="crispEdges" d="M1076.5 368.9L1160 368.9"/>
<path class="s" shape-rendering="crispEdges" d="M1070.8 376.5L1168 376.5"/>
<rect class="f" shape-rendering="crispEdges" x="1099" y="356" width="12" height="13"/>
<rect class="f" shape-rendering="crispEdges" x="1108" y="356" width="14" height="13"/>
<rect class="s" shape-rendering="crispEdges" x="1076.5" y="431.5" width="23" height="20.5"/>
<rect class="f" shape-rendering="crispEdges" x="1090.5" y="439" width="7" height="11"/>
<path class="s" shape-rendering="crispEdges" d="M1076.5 431.5L1300 431.5"/>
<path class="g" shape-rendering="crispEdges" d="M1099.5 434.5L1290 434.5"/>
<rect class="s" shape-rendering="crispEdges" x="1125.6" y="431.5" width="9" height="20.5"/>
<rect class="f" shape-rendering="crispEdges" x="1128" y="439" width="6" height="11"/>
<path class="s" shape-rendering="crispEdges" d="M1165 400L1165 452"/>
<path class="s" shape-rendering="crispEdges" d="M1188 392L1188 431.5"/>
<path class="s" shape-rendering="crispEdges" d="M1171 431.5L1171 447"/>
<path class="s" shape-rendering="crispEdges" d="M1205 431.5L1205 447"/>
<path class="s" shape-rendering="crispEdges" d="M1152 364L1175 364"/>
<path class="s" d="M1152 364L1152 368.9M1175 364L1170 354L1183 354L1183 349"/>
<rect class="f" shape-rendering="crispEdges" x="1177" y="349" width="21" height="6"/>
<path class="s" d="M1171 354L1166 368L1174 374"/>
<path class="f" d="M1144 307L1017.9 400L1011.5 424.3L1151.8 321"/>
<path class="c" d="M1016 411.5L1148 314"/>
<path class="s" d="M1141.7 305.3A7.8 7.8 0 0 1 1154.3 322.7"/>
<path class="s" d="M1146 303L1160 292M1153.5 321L1169 308"/>
<rect class="f" x="-7.5" y="-7" width="15" height="14" transform="translate(1169.6 295.5) rotate(-37)"/>
<path class="s" d="M1163.5 300L1175.5 291"/>
<path class="t" stroke-width="19.5" d="M1153 332.5C1149.2 337 1136.3 342.4 1130 359.3C1123.7 376.2 1118.8 413.1 1115 434C1111.2 454.9 1109.2 466.8 1107 485C1104.8 503.2 1102.6 533.3 1101.7 543"/>
<path class="ti" stroke-width="17.5" d="M1153 332.5C1149.2 337 1136.3 342.4 1130 359.3C1123.7 376.2 1118.8 413.1 1115 434C1111.2 454.9 1109.2 466.8 1107 485C1104.8 503.2 1102.6 533.3 1101.7 543"/>
<path class="c" d="M1153 332.5C1149.2 337 1136.3 342.4 1130 359.3C1123.7 376.2 1118.8 413.1 1115 434C1111.2 454.9 1109.2 466.8 1107 485C1104.8 503.2 1102.6 533.3 1101.7 543"/>
<circle class="f" cx="1101.7" cy="543" r="10.6"/>
<circle class="s" cx="1101.7" cy="543" r="9.6"/>
<path class="s" d="M1147 323A10 10 0 0 1 1158 342"/>
<rect class="f" x="-6" y="-11" width="12" height="22" transform="translate(1163 333) rotate(8)"/>
<path class="f" d="M1168 321L1178.6 319.7L1178.6 347.8L1168 345Z"/>
<path class="f" d="M1178.6 319.7L1192 321Q1197.7 322 1197.7 330L1197.7 342L1190 347.8L1178.6 347.8Z"/>
<path class="s" shape-rendering="crispEdges" d="M1184 320L1184 347.8"/>
<path class="s" d="M1197.7 332L1186 347"/>
<rect class="f" shape-rendering="crispEdges" x="1177" y="347.8" width="20" height="6"/>
<path class="f" d="M1243 290.5L1233.4 287L1218 296.4L1217.4 313L1212.8 315Q1212.5 316 1212.5 318L1212.5 327L1217.4 330L1217.4 335L1241 335L1244 331Z"/>
<path class="s" d="M1238 290L1222.5 298.5L1221 312M1217.4 313L1221 312L1224 313.5M1217.4 330L1217.4 316Q1218 313.5 1221 313M1220.6 335L1220.6 318L1224 315"/>
<path class="s" stroke-width="1.4" d="M1239.5 291.5A7 10 0 0 0 1239.5 311M1235.8 292.5A6.5 9.5 0 0 0 1235.8 310M1231.5 294A6 8 0 0 0 1231.5 309"/>
<path class="s" stroke-width="1.4" d="M1239.5 313A7 10 0 0 0 1239.5 332M1235.8 314A6.5 9.5 0 0 0 1235.8 331M1231.5 316A6 8 0 0 0 1231.5 330"/>
<g transform="translate(1227 343) rotate(90)"><rect class="f" x="-8" y="-14.5" width="16" height="29" rx="1.5"/><path class="s" d="M-8 -7.2L8 -7.2M-8 7.2L8 7.2"/></g>
<rect class="f" shape-rendering="crispEdges" x="1215.6" y="351" width="22" height="4.4"/>
<rect class="f" shape-rendering="crispEdges" x="1216.5" y="355.4" width="20.5" height="3.6"/>
<path class="s" shape-rendering="crispEdges" d="M1226.5 351L1226.5 359"/>
<path class="t" stroke-width="18.3" d="M1158.6 393.6C1167.1 390.4 1192.6 378.8 1209.6 374.5C1226.6 370.2 1246.6 369.1 1260.6 368C1274.6 366.9 1288.3 367.8 1293.8 367.7"/>
<path class="ti" stroke-width="16.3" d="M1158.6 393.6C1167.1 390.4 1192.6 378.8 1209.6 374.5C1226.6 370.2 1246.6 369.1 1260.6 368C1274.6 366.9 1288.3 367.8 1293.8 367.7"/>
<path class="c" d="M1158.6 393.6C1167.1 390.4 1192.6 378.8 1209.6 374.5C1226.6 370.2 1246.6 369.1 1260.6 368C1274.6 366.9 1288.3 367.8 1293.8 367.7"/>
<rect class="f" x="-15.5" y="-10" width="31" height="20" transform="translate(1146 398.5) rotate(-27)"/>
<path class="s" shape-rendering="crispEdges" d="M1293.8 358.5L1293.8 377"/>
<path class="t" stroke-width="18.5" d="M1189 480C1191.3 475 1197.5 460.8 1203 450C1208.5 439.2 1214.4 425.8 1222.3 415.3C1230.2 404.8 1238.5 393.6 1250.4 387.2C1262.3 380.8 1286.6 378.5 1293.8 376.8"/>
<path class="ti" stroke-width="16.5" d="M1189 480C1191.3 475 1197.5 460.8 1203 450C1208.5 439.2 1214.4 425.8 1222.3 415.3C1230.2 404.8 1238.5 393.6 1250.4 387.2C1262.3 380.8 1286.6 378.5 1293.8 376.8"/>
<path class="c" d="M1189 480C1191.3 475 1197.5 460.8 1203 450C1208.5 439.2 1214.4 425.8 1222.3 415.3C1230.2 404.8 1238.5 393.6 1250.4 387.2C1262.3 380.8 1286.6 378.5 1293.8 376.8"/>
<rect class="s" x="-15" y="-10.5" width="30" height="21" transform="translate(1207 443) rotate(-64)"/>
<rect class="s" x="-3" y="-10.5" width="6" height="21" transform="translate(1196 467) rotate(-64)"/>
<rect class="f" shape-rendering="crispEdges" x="1388.8" y="187" width="20.4" height="42"/>
<path class="s" shape-rendering="crispEdges" d="M1388.8 229.5L1409.2 229.5"/>
<path class="s" shape-rendering="crispEdges" d="M1388.8 228.3L1409.2 228.3"/>
<rect class="f" shape-rendering="crispEdges" x="1364.5" y="231.6" width="69" height="15.4"/>
<rect class="f" shape-rendering="crispEdges" x="1358.7" y="247" width="79.8" height="15.2"/>
<path class="s" shape-rendering="crispEdges" d="M1358.7 248L1438.5 248"/>
<rect class="f" shape-rendering="crispEdges" x="1344.6" y="262.2" width="110.2" height="49"/>
<path class="s" shape-rendering="crispEdges" d="M1352.3 262.2L1352.3 311.2"/>
<path class="g" shape-rendering="crispEdges" d="M1445.4 262.2L1445.4 311.2"/>
<rect class="s" shape-rendering="crispEdges" x="1362" y="278.3" width="20.4" height="32.9"/>
<rect class="s" shape-rendering="crispEdges" x="1416" y="278.3" width="21" height="32.9"/>
<rect class="s" shape-rendering="crispEdges" x="1344" y="262.2" width="8.4" height="52"/>
<path class="s" shape-rendering="crispEdges" d="M1437 311.2L1437 356"/>
<path class="s" shape-rendering="crispEdges" d="M1361.2 311.2L1361.2 354.8"/>
<path class="s" shape-rendering="crispEdges" d="M1361.2 322.3L1437 322.3"/>
<rect class="f" shape-rendering="crispEdges" x="1399.5" y="356" width="22.3" height="32"/>
<path class="s" shape-rendering="crispEdges" d="M1399.5 386.5L1421.8 386.5"/>
<path class="s" shape-rendering="crispEdges" d="M1402 387.5L1420 387.5"/>
<path class="s" shape-rendering="crispEdges" d="M1360.6 354.8L1399.5 354.8"/>
<path class="s" shape-rendering="crispEdges" d="M1360.6 354.8L1360.6 420"/>
<path class="s" shape-rendering="crispEdges" d="M1399.5 388L1399.5 420"/>
<path class="s" shape-rendering="crispEdges" d="M1414 388L1414 420"/>
<rect class="f" x="1342.8" y="354.8" width="8" height="19" rx="1.5"/>
<rect class="f" x="1351" y="356.5" width="9" height="15.5" rx="1.5"/>
<path class="s" shape-rendering="crispEdges" d="M1351 364L1360 364"/>
<rect class="f" shape-rendering="crispEdges" x="1320" y="278" width="9.5" height="6.5"/>
<g transform="translate(1334.3 281.5) rotate(0)"><rect class="f" x="-4.8" y="-5.1" width="9.5" height="10.2" rx="1.5"/><path class="s" d="M-4.8 -2.5L4.8 -2.5M-4.8 2.5L4.8 2.5"/></g>
<rect class="f" shape-rendering="crispEdges" x="1339" y="278" width="5" height="7.5"/>
<rect class="f" shape-rendering="crispEdges" x="1320" y="302.5" width="9.5" height="6.5"/>
<g transform="translate(1334.3 305.7) rotate(0)"><rect class="f" x="-4.8" y="-5.1" width="9.5" height="10.2" rx="1.5"/><path class="s" d="M-4.8 -2.5L4.8 -2.5M-4.8 2.5L4.8 2.5"/></g>
<rect class="f" shape-rendering="crispEdges" x="1339" y="302" width="5" height="7.5"/>
<rect class="f" shape-rendering="crispEdges" x="1293.8" y="367" width="27.2" height="19"/>
<rect class="f" shape-rendering="crispEdges" x="1278.4" y="386" width="42.6" height="33.2"/>
<path class="s" shape-rendering="crispEdges" d="M1278.4 395.5L1321 395.5"/>
<path class="s" shape-rendering="crispEdges" d="M1278.4 411.5L1321 411.5"/>
<path class="s" d="M1312 388Q1313 396 1322 396Q1331 396 1332 389"/>
<rect class="f" shape-rendering="crispEdges" x="1275" y="355.5" width="14" height="3.8"/>
<path class="s" shape-rendering="crispEdges" d="M1277 355.5L1277 359.3"/>
<path class="s" shape-rendering="crispEdges" d="M1279.4 355.5L1279.4 359.3"/>
<path class="s" shape-rendering="crispEdges" d="M1281.8 355.5L1281.8 359.3"/>
<path class="s" shape-rendering="crispEdges" d="M1284.2 355.5L1284.2 359.3"/>
<path class="s" shape-rendering="crispEdges" d="M1286.6 355.5L1286.6 359.3"/>
<path class="s" d="M1234.4 430L1271 430Q1277 428 1278.4 421"/>
<circle class="s" cx="1267.2" cy="421.8" r="3.8"/>
<circle class="s" cx="1267.2" cy="421.8" r="3"/>
<rect class="f" shape-rendering="crispEdges" x="1278.4" y="420" width="76.6" height="65.7"/>
<path class="s" shape-rendering="crispEdges" d="M1278.4 452L1355 452"/>
<path class="s" shape-rendering="crispEdges" d="M1278.4 463.4L1355 463.4"/>
<path class="s" shape-rendering="crispEdges" d="M1316.7 420L1316.7 452"/>
<path class="s" shape-rendering="crispEdges" d="M1276 420L1276 452"/>
<path class="s" shape-rendering="crispEdges" d="M1295 420L1316.7 420"/>
<path class="s" shape-rendering="crispEdges" d="M1295 421L1316.7 421"/>
<rect class="f" shape-rendering="crispEdges" x="1262.5" y="496.5" width="109.1" height="49.1"/>
<path class="s" shape-rendering="crispEdges" d="M1269.5 496.5L1269.5 545.6"/>
<path class="s" shape-rendering="crispEdges" d="M1364 496.5L1364 545.6"/>
<rect class="s" shape-rendering="crispEdges" x="1278.4" y="496.5" width="21.6" height="33.2"/>
<rect class="s" shape-rendering="crispEdges" x="1333.3" y="496.5" width="21.7" height="33.2"/>
<path class="s" shape-rendering="crispEdges" d="M1278.4 485.7L1278.4 496.5"/>
<path class="s" shape-rendering="crispEdges" d="M1355 485.7L1355 496.5"/>
<rect class="f" shape-rendering="crispEdges" x="1276.5" y="545.6" width="80.5" height="14.1"/>
<path class="s" shape-rendering="crispEdges" d="M1282 545.6L1282 559"/>
<path class="s" shape-rendering="crispEdges" d="M1351.8 545.6L1351.8 559"/>
<path class="s" shape-rendering="crispEdges" d="M1282 558.5L1351.8 558.5"/>
<rect class="f" shape-rendering="crispEdges" x="1282.3" y="559.7" width="69.5" height="16.6"/>
<rect class="f" shape-rendering="crispEdges" x="1306.5" y="576.3" width="20.5" height="43.1"/>
<path class="s" shape-rendering="crispEdges" d="M1306.5 577.5L1327 577.5"/>
<path class="s" shape-rendering="crispEdges" d="M1306.5 579L1327 579"/>
<path class="s" shape-rendering="crispEdges" d="M1306.5 616L1327 616"/>
<path class="c" d="M1294 486L1372 491"/>
<path class="c" d="M1261 513L1371 526"/>
<path class="c" d="M1267 505.5L1320 501"/>
<path class="s" d="M1290 486Q1340 484 1371 492"/>
<rect class="f" shape-rendering="crispEdges" x="1371.6" y="496.5" width="7" height="10.2"/>
<rect class="f" shape-rendering="crispEdges" x="1371.6" y="520.8" width="7" height="10.2"/>
<rect class="f" x="1366.4" y="418" width="15.3" height="33.8" rx="2"/>
<path class="s" shape-rendering="crispEdges" d="M1366.4 438L1381.7 438"/>
<path class="s" shape-rendering="crispEdges" d="M1366.4 444L1381.7 444"/>
<rect class="f" shape-rendering="crispEdges" x="1381.7" y="420" width="51.6" height="25.4"/>
<path class="s" shape-rendering="crispEdges" d="M1395.7 420L1395.7 445.4"/>
<path class="s" shape-rendering="crispEdges" d="M1407 425L1407 445.4"/>
<path class="s" shape-rendering="crispEdges" d="M1381.7 438.4L1415 438.4"/>
<path class="s" shape-rendering="crispEdges" d="M1395.7 427L1407 427"/>
<path class="s" d="M1433.3 445.4L1457.6 445.4"/>
<path class="s" d="M1433.3 432L1433.3 445.4"/>
<path class="s" d="M1410 440Q1425 436 1433 424"/>
<path class="s" shape-rendering="crispEdges" d="M1355 420L1355 485.7"/>
<rect class="f" shape-rendering="crispEdges" x="1357" y="440" width="10" height="12"/>
<rect class="s" shape-rendering="crispEdges" x="1357" y="452" width="14" height="10"/>
<path class="t" stroke-width="19.5" d="M1242 300C1253.3 303.2 1290.8 313.4 1310 319C1329.2 324.6 1349.2 331.1 1357 333.5"/>
<path class="ti" stroke-width="17.5" d="M1242 300C1253.3 303.2 1290.8 313.4 1310 319C1329.2 324.6 1349.2 331.1 1357 333.5"/>
<path class="c" d="M1242 300C1253.3 303.2 1290.8 313.4 1310 319C1329.2 324.6 1349.2 331.1 1357 333.5"/>
<path class="f" stroke-width="1.4" d="M1244 290.7A7.2 10.2 0 0 0 1244 311.2"/>
<path class="t" stroke-width="19.5" d="M1242 322C1249.8 325.7 1274.7 336.7 1289 344C1303.3 351.3 1312.2 356.8 1328 366C1343.8 375.2 1374.7 393.9 1384 399.5"/>
<path class="ti" stroke-width="17.5" d="M1242 322C1249.8 325.7 1274.7 336.7 1289 344C1303.3 351.3 1312.2 356.8 1328 366C1343.8 375.2 1374.7 393.9 1384 399.5"/>
<path class="c" d="M1242 322C1249.8 325.7 1274.7 336.7 1289 344C1303.3 351.3 1312.2 356.8 1328 366C1343.8 375.2 1374.7 393.9 1384 399.5"/>
<path class="f" stroke-width="1.4" d="M1244 312.3A7.5 10 0 0 0 1245 332"/>
<rect class="f" x="-14.5" y="-8.8" width="29" height="17.5" transform="translate(1368.7 338.4) rotate(17.7)"/>
<rect class="f" x="-1.5" y="-6.5" width="3" height="13" transform="translate(1385 343.5) rotate(17.7)"/>
<g transform="translate(1387.5 344.3) rotate(18)">
<rect class="f" x="0" y="-12" width="18" height="24" rx="1.5"/>
<path class="s" d="M0 -6L18 -6M0 6L18 6"/>
<rect class="f" x="18" y="-9.5" width="2" height="19"/>
<rect class="f" x="20" y="-10.5" width="8" height="21" rx="1.5"/>
<path class="s" d="M20 0L28 0"/>
<rect class="f" x="28" y="-6.5" width="4" height="13"/>
</g>
<rect class="f" x="-14" y="-9.5" width="28" height="19" transform="translate(1396 405.7) rotate(26)"/>
<path class="t" stroke-width="12.5" d="M1416 351.5Q1436 357 1434.5 373L1427.5 409"/>
<path class="ti" stroke-width="10.5" d="M1416 351.5Q1436 357 1434.5 373L1427.5 409"/>
<path class="c" d="M1416 351.5Q1436 357 1434.5 373L1427.5 409"/>
<path class="t" stroke-width="11.5" d="M1440 425L1457.6 438.4"/>
<path class="ti" stroke-width="9.5" d="M1440 425L1457.6 438.4"/>
<path class="c" d="M1440 425L1457.6 438.4"/>
<path class="s" d="M1453 443.2A6 6 0 0 0 1461 433.5"/>
<circle class="s" cx="1457.6" cy="438.4" r="5.8"/>
<path class="f" d="M1412 414L1422 406L1440 415L1442 425L1432 434L1416 428Z"/>
<path class="s" d="M1418 410L1434 422M1413 421L1430 432"/>
<rect class="f" x="-3.5" y="-11" width="7" height="22" transform="translate(1436 424) rotate(32)"/>
<rect class="f" x="-2" y="-8.5" width="4" height="17" transform="translate(1441 427.5) rotate(32)"/>
<path class="t" stroke-width="8.5" d="M1314.2 279.6L1393 500"/>
<path class="ti" stroke-width="6.5" d="M1314.2 279.6L1393 500"/>
<path class="c" d="M1314.2 279.6L1393 500"/>
<path class="t" stroke-width="8.5" d="M1311.6 303.8L1391 524"/>
<path class="ti" stroke-width="6.5" d="M1311.6 303.8L1391 524"/>
<path class="c" d="M1311.6 303.8L1391 524"/>
<path class="s" d="M1310.2 281A4.3 4.3 0 0 1 1318.2 278"/>
<path class="s" d="M1307.6 305.2A4.3 4.3 0 0 1 1315.6 302.4"/>
<circle class="f" cx="1393.2" cy="501.6" r="4.8"/>
<circle class="s" cx="1393.2" cy="501.6" r="2.6"/>
<circle class="f" cx="1391.3" cy="525.9" r="5"/>
<circle class="s" cx="1391.3" cy="525.9" r="2.8"/>
<rect class="f" shape-rendering="crispEdges" x="1378.6" y="497.5" width="8" height="8"/>
<rect class="f" shape-rendering="crispEdges" x="1378.6" y="521.8" width="8" height="8"/>
<rect class="f" x="1245.5" y="442.3" width="19" height="7" rx="1.5"/>
<path class="s" shape-rendering="crispEdges" d="M1255 442.3L1255 449.3"/>
<g transform="translate(1254.8 457.6) rotate(90)"><rect class="f" x="-6.3" y="-11.4" width="12.7" height="22.9" rx="1.5"/><path class="s" d="M-6.3 -5.7L6.3 -5.7M-6.3 5.7L6.3 5.7"/></g>
<rect class="f" shape-rendering="crispEdges" x="1249.8" y="464" width="10.2" height="8.3"/>
<path class="f" d="M1248.5 472.3L1262.5 472.3L1262.5 496.5L1248.5 496.5L1248.5 493.3L1236 493.3Q1232 493.3 1232 489L1232 483.5Q1232 479.3 1236 479.3L1248.5 479.3Z"/>
<g transform="translate(1271.3 486.3) rotate(0)"><rect class="f" x="-5.7" y="-5.7" width="11.3" height="11.4" rx="1.5"/><path class="s" d="M-5.7 -2.9L5.7 -2.9M-5.7 2.9L5.7 2.9"/></g>
<circle class="s" cx="1275.5" cy="486.3" r="3"/>
<path class="s" shape-rendering="crispEdges" d="M1259 482.5L1265.7 482.5"/>
<path class="s" shape-rendering="crispEdges" d="M1259 490L1265.7 490"/>
<rect class="f" x="1246" y="497.8" width="15.3" height="6.4" rx="1.5"/>
<g transform="translate(1252 511.2) rotate(0)"><rect class="f" x="-8" y="-5.8" width="16" height="11.5" rx="1.5"/><path class="s" d="M-8 -2.9L8 -2.9M-8 2.9L8 2.9"/></g>
<rect class="f" shape-rendering="crispEdges" x="1154.5" y="529.5" width="55" height="108"/>
<path class="s" shape-rendering="crispEdges" d="M1154.5 538L1209.5 538"/>
<path class="s" shape-rendering="crispEdges" d="M1154.5 632L1209.5 632"/>
<rect class="f" shape-rendering="crispEdges" x="1157" y="527" width="50" height="3"/>
<rect class="f" x="1141" y="564" width="13" height="6" rx="1"/>
<rect class="f" x="1140" y="587" width="14" height="12" rx="1"/>
<path class="s" shape-rendering="crispEdges" d="M1142 587L1142 599"/>
<path class="s" shape-rendering="crispEdges" d="M1145 587L1145 599"/>
<path class="s" shape-rendering="crispEdges" d="M1148 587L1148 599"/>
<path class="s" shape-rendering="crispEdges" d="M1151 587L1151 599"/>
<path class="t" stroke-width="19.5" d="M1253 517C1252.5 519.5 1252 527.9 1250 532C1248 536.1 1252 535.8 1241 541.5C1230 547.2 1206.3 558.9 1184 566C1161.7 573.1 1135.7 580 1107 584C1078.3 588 1027.8 589 1012 590"/>
<path class="ti" stroke-width="17.5" d="M1253 517C1252.5 519.5 1252 527.9 1250 532C1248 536.1 1252 535.8 1241 541.5C1230 547.2 1206.3 558.9 1184 566C1161.7 573.1 1135.7 580 1107 584C1078.3 588 1027.8 589 1012 590"/>
<path class="c" d="M1253 517C1252.5 519.5 1252 527.9 1250 532C1248 536.1 1252 535.8 1241 541.5C1230 547.2 1206.3 558.9 1184 566C1161.7 573.1 1135.7 580 1107 584C1078.3 588 1027.8 589 1012 590"/>
<rect class="f" x="-2" y="-10" width="4" height="20" transform="translate(1240.5 541.8) rotate(-25)"/>
<rect class="s" x="-0.5" y="-10" width="1" height="20" transform="translate(1222 551) rotate(-22)"/>
<rect class="s" shape-rendering="crispEdges" x="1154.5" y="529.5" width="55" height="108"/>
<path class="s" shape-rendering="crispEdges" d="M1154.5 538L1209.5 538"/>
<path class="t" stroke-width="10" d="M1009 536C1023.2 532 1072 517.3 1094 512C1116 506.7 1133.2 505.3 1141 504"/>
<path class="ti" stroke-width="8" d="M1009 536C1023.2 532 1072 517.3 1094 512C1116 506.7 1133.2 505.3 1141 504"/>
<path class="c" d="M1009 536C1023.2 532 1072 517.3 1094 512C1116 506.7 1133.2 505.3 1141 504"/>
<path class="s" d="M1007.7 531L1010.8 540.5"/>
<rect class="f" shape-rendering="crispEdges" x="1141" y="501.5" width="15.5" height="8"/>
<path class="s" d="M1119 461Q1121 478.7 1133 478.7L1167 478.7M1117 470Q1118 492.7 1132 492.7L1167 492.7"/>
<path class="s" d="M1124.5 480Q1133 486 1124.5 492"/>
<ellipse class="f" cx="1164" cy="486" rx="6.5" ry="12"/>
<ellipse class="s" cx="1164" cy="486" rx="4" ry="8.5"/>
<circle class="f" cx="1183" cy="486" r="11.5"/>
<circle class="s" cx="1183" cy="486" r="8.5"/>
<path class="t" stroke-width="16" d="M1125.6 529.7L1028 574"/>
<path class="ti" stroke-width="14" d="M1125.6 529.7L1028 574"/>
<path class="c" d="M1125.6 529.7L1028 574"/>
<path class="s" d="M1031 566.5A8 8 0 0 0 1036 581.5"/>
<rect class="f" x="-13.5" y="-10" width="27" height="20" transform="translate(1148.6 518.8) rotate(-27)"/>
<rect class="f" x="-7.5" y="-9" width="15" height="18" transform="translate(1125.6 529.7) rotate(-27)"/>
<rect class="f" x="-2" y="-6.5" width="4" height="13" transform="translate(1136 525) rotate(-27)"/>
<path class="s" d="M1079 543L1083 556"/>
<path class="s" d="M1046.5 560L1052 572"/>
<circle class="f" cx="1101.7" cy="543" r="10.6"/>
<circle class="s" cx="1101.7" cy="543" r="9.6"/>
<path class="t" stroke-width="19.5" d="M1107.5 483L1104.4 515L1101.9 541"/>
<path class="ti" stroke-width="17.5" d="M1107.5 483L1104.4 515L1101.9 541"/>
<path class="c" d="M1107.5 483L1104.4 515L1101.9 541"/>
<path class="f" d="M1091.2 541A10.6 10.6 0 0 0 1112.2 544"/>
<path class="s" d="M1014 565.4L1008.3 584.5"/>
<path class="s" d="M1014 565.4L1030 565.4"/>
<path class="c" d="M1042 582L1200 557.7"/>
<rect class="s" shape-rendering="crispEdges" x="1154.3" y="529.7" width="46" height="30"/>
<path class="s" shape-rendering="crispEdges" d="M1154.3 534.8L1200 534.8"/>
<g transform="translate(1182 521) rotate(90)"><rect class="f" x="-5.5" y="-6.2" width="11" height="12.5" rx="1.5"/><path class="s" d="M-5.5 -3.1L5.5 -3.1M-5.5 3.1L5.5 3.1"/></g>
<g transform="translate(1193 521) rotate(90)"><rect class="f" x="-5.5" y="-5" width="11" height="10" rx="1.5"/><path class="s" d="M-5.5 -2.5L5.5 -2.5M-5.5 2.5L5.5 2.5"/></g>
<rect class="f" shape-rendering="crispEdges" x="1175" y="507" width="8" height="7"/>
<rect class="f" shape-rendering="crispEdges" x="1187" y="507" width="8" height="7"/>
<g transform="translate(1182 451) rotate(0)"><rect class="f" x="-4" y="-7.5" width="8" height="15" rx="1.5"/><path class="s" d="M-4 -3.8L4 -3.8M-4 3.8L4 3.8"/></g>
<rect class="f" shape-rendering="crispEdges" x="1174" y="455" width="16" height="4"/>
<g transform="translate(1178.5 464) rotate(90)"><rect class="f" x="-7" y="-9" width="14" height="18" rx="1.5"/><path class="s" d="M-7 -4.5L7 -4.5M-7 4.5L7 4.5"/></g>
</g>
<g id="p_bottom_left">
<path class="s" shape-rendering="crispEdges" d="M61.2 857.4L82.3 857.4"/>
<path class="d" d="M82.3 857.4L132 857.4"/>
<path class="s" shape-rendering="crispEdges" d="M61.2 857.4L61.2 912"/>
<path class="d" d="M61.25 912L61.25 1194.6"/>
<path class="d" d="M61.25 1194.6L132 1194.6"/>
<path class="s" shape-rendering="crispEdges" d="M61.2 1180L61.2 1194.6"/>
<path class="s" shape-rendering="crispEdges" d="M61.2 1194.6L82 1194.6"/>
<path class="s" d="M132 1194.6L132 1189.5L165.8 1189.5L165.8 884"/>
<path class="s" d="M132 1189.5L132 1192L151 1192"/>
<path class="g" shape-rendering="crispEdges" d="M168.4 884L168.4 1171.6"/>
<path class="d" d="M172.2 884L172.2 1120"/>
<rect class="s" shape-rendering="crispEdges" x="165.8" y="1156" width="4.6" height="17"/>
<path class="g" stroke-dasharray="26 8" d="M132.5 884L132.5 1188"/>
<path class="g" stroke-dasharray="26 8" d="M133.8 884L133.8 1188"/>
<path class="g" shape-rendering="crispEdges" d="M132 860L145 860"/>
<path class="g" d="M132 857.4L132 866L143 862"/>
<rect class="f" shape-rendering="crispEdges" x="50.4" y="893" width="10.8" height="16.5"/>
<rect class="f" shape-rendering="crispEdges" x="53.6" y="885.5" width="5.8" height="7.5"/>
<rect class="f" x="45.5" y="914.6" width="14" height="3.2" rx="1.5"/>
<rect class="f" shape-rendering="crispEdges" x="88" y="827.2" width="30" height="30.2"/>
<path class="s" shape-rendering="crispEdges" d="M92.5 827.2L92.5 857.4"/>
<path class="s" shape-rendering="crispEdges" d="M111 827.2L111 857.4"/>
<path class="s" shape-rendering="crispEdges" d="M114.2 827.2L114.2 857.4"/>
<circle class="s" cx="102.3" cy="836.8" r="10.2"/>
<circle class="s" cx="102.3" cy="836.8" r="9.2"/>
<path class="t" stroke-width="12.2" d="M388 829.6L130 829.6Q116 829.6 116 845"/>
<path class="ti" stroke-width="10.2" d="M388 829.6L130 829.6Q116 829.6 116 845"/>
<path class="c" d="M388 829.6L130 829.6Q116 829.6 116 845"/>
<path class="s" d="M215.5 823.5Q208.5 829.6 215.5 835.7M229.8 823.5L229.8 835.7"/>
<circle class="dot" cx="333.3" cy="829.5" r="4.4"/>
<path class="t" stroke-width="12.5" d="M236 850C226.3 851.3 194.8 852.5 178 858C161.2 863.5 147 872.7 135 883C123 893.3 112.2 907.2 106 920C99.8 932.8 97.3 941.7 98 960C98.7 978.3 103.5 1008.3 110 1030C116.5 1051.7 131.3 1078.3 137 1090C142.7 1101.7 142.8 1098.3 144 1100"/>
<path class="ti" stroke-width="10.5" d="M236 850C226.3 851.3 194.8 852.5 178 858C161.2 863.5 147 872.7 135 883C123 893.3 112.2 907.2 106 920C99.8 932.8 97.3 941.7 98 960C98.7 978.3 103.5 1008.3 110 1030C116.5 1051.7 131.3 1078.3 137 1090C142.7 1101.7 142.8 1098.3 144 1100"/>
<path class="c" d="M236 850C226.3 851.3 194.8 852.5 178 858C161.2 863.5 147 872.7 135 883C123 893.3 112.2 907.2 106 920C99.8 932.8 97.3 941.7 98 960C98.7 978.3 103.5 1008.3 110 1030C116.5 1051.7 131.3 1078.3 137 1090C142.7 1101.7 142.8 1098.3 144 1100"/>
<path class="t" stroke-width="15.6" d="M243 845.7C230 845.8 186.3 843.3 165 846C143.7 848.7 128.2 853.8 115 862C101.8 870.2 92.7 882.5 86 895C79.3 907.5 76.7 919.5 75 937C73.3 954.5 75.1 971 76 1000C76.9 1029 79.7 1092.5 80.4 1111"/>
<path class="ti" stroke-width="13.6" d="M243 845.7C230 845.8 186.3 843.3 165 846C143.7 848.7 128.2 853.8 115 862C101.8 870.2 92.7 882.5 86 895C79.3 907.5 76.7 919.5 75 937C73.3 954.5 75.1 971 76 1000C76.9 1029 79.7 1092.5 80.4 1111"/>
<path class="c" d="M243 845.7C230 845.8 186.3 843.3 165 846C143.7 848.7 128.2 853.8 115 862C101.8 870.2 92.7 882.5 86 895C79.3 907.5 76.7 919.5 75 937C73.3 954.5 75.1 971 76 1000C76.9 1029 79.7 1092.5 80.4 1111"/>
<rect class="f" shape-rendering="crispEdges" x="242.3" y="837.3" width="25" height="17"/>
<rect class="f" shape-rendering="crispEdges" x="267.3" y="841" width="3.5" height="10"/>
<rect class="f" shape-rendering="crispEdges" x="64.4" y="935.6" width="49.1" height="16"/>
<path class="g" shape-rendering="crispEdges" d="M68.5 935.6L68.5 951.6"/>
<path class="s" shape-rendering="crispEdges" d="M83 935.6L83 951.6"/>
<path class="s" shape-rendering="crispEdges" d="M92 935.6L92 951.6"/>
<path class="g" shape-rendering="crispEdges" d="M96.5 935.6L96.5 951.6"/>
<path class="s" shape-rendering="crispEdges" d="M101.5 935.6L101.5 951.6"/>
<circle class="s" cx="106.5" cy="944" r="4"/>
<path class="s" shape-rendering="crispEdges" d="M103 944L110 944"/>
<path class="s" shape-rendering="crispEdges" d="M106.5 940.5L106.5 947.5"/>
<path class="dot" d="M104 946L109 946L108 948L105 948Z"/>
<path class="s" d="M113.5 953.5A15.2 15.2 0 0 1 111 984M113.5 958.5A10.2 10.2 0 0 1 111 979"/>
<rect class="s" shape-rendering="crispEdges" x="105.8" y="979.5" width="5.2" height="8"/>
<path class="c" d="M111.25 850L111.25 1248"/>
<rect class="f" shape-rendering="crispEdges" x="72.7" y="1111" width="15.3" height="24.3"/>
<rect class="f" shape-rendering="crispEdges" x="76.5" y="1135.3" width="8.3" height="5.7"/>
<g transform="translate(80.7 1148) rotate(90)"><rect class="f" x="-7" y="-11.2" width="14" height="22.4" rx="1.5"/><path class="s" d="M-7 -5.6L7 -5.6M-7 5.6L7 5.6"/></g>
<circle class="f" cx="80.4" cy="1161.4" r="12.7"/>
<circle class="s" cx="80.4" cy="1161.4" r="9.8"/>
<path class="f" d="M71 1159A9.5 9.5 0 0 0 89.8 1159L89.8 1155L71 1155Z"/>
<path class="g" shape-rendering="crispEdges" d="M76 1155L76 1168"/>
<path class="g" shape-rendering="crispEdges" d="M85 1155L85 1168"/>
<g transform="translate(141.5 1095.5) rotate(61)">
<rect class="f" x="0" y="-6.8" width="25" height="13.5"/>
<rect class="f" x="25" y="-5" width="5" height="10"/>
<rect class="f" x="30" y="-11" width="13" height="22" rx="1.5"/>
<path class="s" d="M30 0L43 0"/>
<rect class="f" x="43" y="-12.5" width="5" height="25"/>
</g>
<path class="t" stroke-width="12" d="M166 1141L181.8 1161.4"/>
<path class="ti" stroke-width="10" d="M166 1141L181.8 1161.4"/>
<path class="c" d="M166 1141L181.8 1161.4"/>
<circle class="s" cx="181.8" cy="1161.4" r="9.3"/>
<path class="s" d="M174 1166.5A9.3 9.3 0 0 0 190 1157"/>
<path class="s" d="M94.4 1194.6L94.4 1224.6L119.3 1224.6"/>
<path class="s" shape-rendering="crispEdges" d="M97 1194.6L97 1224.6"/>
<path class="s" d="M119.3 1194.6L119.3 1224.6"/>
<path class="s" d="M122.5 1194.6L119.3 1224.6"/>
<circle class="s" cx="107.8" cy="1213.7" r="4"/>
<rect class="f" x="102" y="1225" width="18.5" height="11.7" rx="3"/>
<g transform="translate(111.3 1247.8) rotate(90)"><rect class="f" x="-7" y="-11.2" width="14" height="22.4" rx="1.5"/><path class="s" d="M-7 -5.6L7 -5.6M-7 5.6L7 5.6"/></g>
<path class="s" d="M172.9 884.6L198 884.6Q210.5 886 210.5 899L210.5 1134Q210 1148 196 1148L183.7 1148"/>
<path class="s" d="M183.7 887L197 887Q207.8 889 207.8 900L207.8 1130Q207 1144.5 194 1144.5L183.7 1144.5"/>
<path class="s" shape-rendering="crispEdges" d="M183.7 884.6L183.7 1148"/>
<path class="s" stroke-width="2" stroke-dasharray="30 6" d="M188.2 888L188.2 1144M197.1 888L197.1 1144"/>
<path class="s" stroke-width="1.6" stroke-dasharray="40 8" d="M208 901L208 1132"/>
<rect class="f" shape-rendering="crispEdges" x="183.7" y="1005.7" width="26.8" height="21.7"/>
<path class="s" shape-rendering="crispEdges" d="M195.2 1005.7L195.2 1027.4"/>
<rect class="s" x="177.8" y="971.3" width="2.6" height="24.2" rx="1.3"/>
<path class="g" stroke-dasharray="20 6" d="M165.2 884L165.2 1188"/>
</g>
<g id="p_bottom_mid">
<path class="t" stroke-width="16" d="M307.3 846.3L655 1104.1"/>
<path class="ti" stroke-width="14" d="M307.3 846.3L655 1104.1"/>
<path class="c" d="M307.3 846.3L655 1104.1"/>
<path class="s" d="M648.4 1108.6A8.2 8.2 0 0 0 661.6 1098.6"/>
<path class="s" d="M651.6 1111A9 9 0 0 1 646 1098"/>
<path class="t" stroke-width="8" d="M657 1105L675 1119"/>
<path class="ti" stroke-width="6" d="M657 1105L675 1119"/>
<rect class="f" x="-7" y="-7" width="14" height="14" transform="translate(680.5 1124.4) rotate(37)"/>
<path class="s" d="M674.5 1128.5L685.5 1119.5"/>
<path class="t" stroke-width="19" d="M300 846.3L363.8 846.3"/>
<path class="ti" stroke-width="17" d="M300 846.3L363.8 846.3"/>
<path class="c" d="M300 846.3L363.8 846.3"/>
<path class="f" d="M310 836.8Q296 838 297.5 846.3Q296 855 310 855.9"/>
<rect class="f" shape-rendering="crispEdges" x="288.9" y="837.5" width="9" height="17.5"/>
<path class="s" d="M298 835.6Q303 833 309 836.8M298 857Q303 860 309 855.9"/>
<g transform="translate(278.7 846.3) rotate(0)"><rect class="f" x="-8.9" y="-10.7" width="17.8" height="21.4" rx="1.5"/><path class="s" d="M-8.9 -5.3L8.9 -5.3M-8.9 5.3L8.9 5.3"/></g>
<rect class="f" shape-rendering="crispEdges" x="267.3" y="840.5" width="3.5" height="11.5"/>
<path class="s" shape-rendering="crispEdges" d="M339.7 836.8L339.7 855.9"/>
<path class="s" shape-rendering="crispEdges" d="M351 836.8L351 855.9"/>
<circle class="f" cx="424" cy="845.9" r="35.7"/>
<rect class="f" shape-rendering="crispEdges" x="388.3" y="828.8" width="71.4" height="33.6"/>
<rect class="f" shape-rendering="crispEdges" x="407.4" y="773.2" width="33.2" height="93.1"/>
<path class="s" shape-rendering="crispEdges" d="M407.4 780.3L440.6 780.3"/>
<circle class="s" cx="413.3" cy="833.1" r="2.4"/>
<circle class="s" cx="434.2" cy="833.1" r="2.4"/>
<circle class="s" cx="413.3" cy="859.1" r="2.4"/>
<circle class="s" cx="434.2" cy="859.1" r="2.4"/>
<path class="s" d="M398.3 828.8A4 4 0 0 0 406.3 828.8"/>
<path class="s" d="M398.3 862.4A4 4 0 0 1 406.3 862.4"/>
<path class="s" d="M441.6 828.8A4 4 0 0 0 449.6 828.8"/>
<path class="s" d="M441.6 862.4A4 4 0 0 1 449.6 862.4"/>
<path class="c" shape-rendering="crispEdges" d="M388.3 829.6L459.7 829.6"/>
<path class="f" d="M366 829.3L375 829.3L376.8 831.5L376.8 860L375 862.4L366 862.4L364 860L364 831.5Z"/>
<path class="s" shape-rendering="crispEdges" d="M364 838L376.8 838"/>
<path class="s" shape-rendering="crispEdges" d="M364 853.5L376.8 853.5"/>
<rect class="f" x="378.6" y="830.6" width="8.4" height="30.6" rx="1.5"/>
<path class="s" shape-rendering="crispEdges" d="M378.6 838L387 838"/>
<path class="s" shape-rendering="crispEdges" d="M378.6 853.5L387 853.5"/>
<rect class="f" x="459.7" y="830.6" width="8.9" height="30.6" rx="1.5"/>
<path class="s" shape-rendering="crispEdges" d="M459.7 838L468.6 838"/>
<path class="s" shape-rendering="crispEdges" d="M459.7 853.5L468.6 853.5"/>
<path class="f" d="M472 829.3L482 829.3L484 831.5L484 860L482 862.4L472 862.4L470 860L470 831.5Z"/>
<path class="s" shape-rendering="crispEdges" d="M470 838L484 838"/>
<path class="s" shape-rendering="crispEdges" d="M470 853.5L484 853.5"/>
<rect class="f" shape-rendering="crispEdges" x="484" y="838.5" width="12.7" height="14.5"/>
<rect class="f" shape-rendering="crispEdges" x="496.7" y="836.4" width="10.3" height="18.9"/>
<path class="s" shape-rendering="crispEdges" d="M496.7 845.9L507 845.9"/>
<rect class="f" x="456" y="820.5" width="12.5" height="8" rx="1.5"/>
<rect class="f" shape-rendering="crispEdges" x="475" y="821.6" width="24" height="12.8"/>
<path class="t" stroke-width="12" d="M499 828C512.5 828.3 552.7 827.8 580 829.8C607.3 831.8 639.3 834.5 663 840C686.7 845.5 712.2 859.2 722 863"/>
<path class="ti" stroke-width="10" d="M499 828C512.5 828.3 552.7 827.8 580 829.8C607.3 831.8 639.3 834.5 663 840C686.7 845.5 712.2 859.2 722 863"/>
<path class="c" d="M499 828C512.5 828.3 552.7 827.8 580 829.8C607.3 831.8 639.3 834.5 663 840C686.7 845.5 712.2 859.2 722 863"/>
<path class="t" stroke-width="17.5" d="M507 845.9C510.8 845.9 523.2 845.3 530 846C536.8 846.7 536.3 845.3 548 850C559.7 854.7 591.3 870 600 874"/>
<path class="ti" stroke-width="15.5" d="M507 845.9C510.8 845.9 523.2 845.3 530 846C536.8 846.7 536.3 845.3 548 850C559.7 854.7 591.3 870 600 874"/>
<path class="c" d="M507 845.9C510.8 845.9 523.2 845.3 530 846C536.8 846.7 536.3 845.3 548 850C559.7 854.7 591.3 870 600 874"/>
<path class="s" d="M537 838Q546 846 537 855"/>
<path class="s" d="M563 848L556 864"/>
<path class="s" d="M592 861L585 877"/>
<path class="s" d="M598 864Q612 868 612 880Q606 890 596 886"/>
<path class="s" d="M603 866Q616 872 613 884"/>
<rect class="f" x="-9" y="-7.5" width="18" height="15" transform="translate(635.5 893) rotate(34)"/>
<rect class="f" x="-3" y="-5.5" width="6" height="11" transform="translate(647 901) rotate(34)"/>
<path class="s" d="M611 881L627 888"/>
<path class="s" d="M605 890L622 898"/>
<path class="t" stroke-width="12" d="M482.7 872C495.6 875.5 531.8 886.4 560 893C588.2 899.6 636.7 908.4 652 911.5"/>
<path class="ti" stroke-width="10" d="M482.7 872C495.6 875.5 531.8 886.4 560 893C588.2 899.6 636.7 908.4 652 911.5"/>
<path class="c" d="M482.7 872C495.6 875.5 531.8 886.4 560 893C588.2 899.6 636.7 908.4 652 911.5"/>
<rect class="f" x="-10.5" y="-7.5" width="21" height="15" transform="translate(472.5 869.5) rotate(14)"/>
<path class="s" d="M461 864L463 873"/>
<rect class="s" shape-rendering="crispEdges" x="663.8" y="778.3" width="56.2" height="112.2"/>
<path class="s" shape-rendering="crispEdges" d="M663.8 780.3L720 780.3"/>
<rect class="f" shape-rendering="crispEdges" x="679" y="808.9" width="23" height="10.1"/>
<path class="s" shape-rendering="crispEdges" d="M680.5 808.9L680.5 819"/>
<path class="s" shape-rendering="crispEdges" d="M683.1 808.9L683.1 819"/>
<path class="s" shape-rendering="crispEdges" d="M685.7 808.9L685.7 819"/>
<path class="s" shape-rendering="crispEdges" d="M688.3 808.9L688.3 819"/>
<path class="s" shape-rendering="crispEdges" d="M690.9 808.9L690.9 819"/>
<path class="s" shape-rendering="crispEdges" d="M693.5 808.9L693.5 819"/>
<path class="s" shape-rendering="crispEdges" d="M696.1 808.9L696.1 819"/>
<path class="s" shape-rendering="crispEdges" d="M698.7 808.9L698.7 819"/>
<path class="s" shape-rendering="crispEdges" d="M701.3 808.9L701.3 819"/>
<rect class="f" shape-rendering="crispEdges" x="677.8" y="820.4" width="24.2" height="26.6"/>
<rect class="f" shape-rendering="crispEdges" x="702" y="820.4" width="15.3" height="17.8"/>
<rect class="f" shape-rendering="crispEdges" x="717.3" y="805" width="12.7" height="32"/>
<path class="g" shape-rendering="crispEdges" d="M718.5 808L718.5 837"/>
<path class="g" shape-rendering="crispEdges" d="M720.5 808L720.5 837"/>
<path class="g" shape-rendering="crispEdges" d="M722.5 808L722.5 837"/>
<path class="g" shape-rendering="crispEdges" d="M724.5 808L724.5 837"/>
<path class="g" shape-rendering="crispEdges" d="M726.5 808L726.5 837"/>
<path class="g" shape-rendering="crispEdges" d="M728.5 808L728.5 837"/>
<rect class="f" shape-rendering="crispEdges" x="718" y="804" width="9" height="3.5"/>
<rect class="f" shape-rendering="crispEdges" x="680.4" y="847" width="26.6" height="13"/>
<rect class="f" shape-rendering="crispEdges" x="669" y="860" width="43" height="23"/>
<rect class="s" shape-rendering="crispEdges" x="669" y="864" width="6" height="13"/>
<rect class="f" shape-rendering="crispEdges" x="665.3" y="883" width="10" height="7.5"/>
<rect class="f" shape-rendering="crispEdges" x="709.7" y="883" width="10" height="7.5"/>
<path class="s" shape-rendering="crispEdges" d="M670 883L670 890.5"/>
<path class="s" shape-rendering="crispEdges" d="M714.5 883L714.5 890.5"/>
<circle class="dot" cx="682.7" cy="837.5" r="1.4"/>
<path class="t" stroke-width="11.5" d="M722 863C726.3 865.3 741.7 872.5 748 877C754.3 881.5 757.7 885.7 760 890C762.3 894.3 761.7 900.8 762 903"/>
<path class="ti" stroke-width="9.5" d="M722 863C726.3 865.3 741.7 872.5 748 877C754.3 881.5 757.7 885.7 760 890C762.3 894.3 761.7 900.8 762 903"/>
<path class="c" d="M722 863C726.3 865.3 741.7 872.5 748 877C754.3 881.5 757.7 885.7 760 890C762.3 894.3 761.7 900.8 762 903"/>
<rect class="f" x="-11" y="-7.5" width="22" height="15" transform="translate(737 871) rotate(28)"/>
<rect class="f" shape-rendering="crispEdges" x="753.5" y="903" width="17.5" height="3"/>
<rect class="f" shape-rendering="crispEdges" x="651.7" y="907.4" width="14.6" height="10.9"/>
<g transform="translate(675.2 912) rotate(0)"><rect class="f" x="-5.2" y="-6.4" width="10.4" height="12.8" rx="1.5"/><path class="s" d="M-5.2 -3.2L5.2 -3.2M-5.2 3.2L5.2 3.2"/></g>
<rect class="f" shape-rendering="crispEdges" x="683" y="906" width="14" height="13"/>
<path class="s" d="M685 906L685 913Q690 920 696 913L696 906"/>
<g transform="translate(691.8 900.3) rotate(0)"><rect class="f" x="-5.2" y="-3.3" width="10.3" height="6.6" rx="1.5"/><path class="s" d="M-5.2 -1.6L5.2 -1.6M-5.2 1.6L5.2 1.6"/></g>
<g transform="translate(703.2 899) rotate(0)"><rect class="f" x="-5.2" y="-3.8" width="10.4" height="7.6" rx="1.5"/><path class="s" d="M-5.2 -1.9L5.2 -1.9M-5.2 1.9L5.2 1.9"/></g>
<rect class="f" shape-rendering="crispEdges" x="697" y="904" width="14" height="13"/>
<g transform="translate(716 912) rotate(0)"><rect class="f" x="-4" y="-5.8" width="8" height="11.5" rx="1.5"/><path class="s" d="M-4 -2.9L4 -2.9M-4 2.9L4 2.9"/></g>
<rect class="f" shape-rendering="crispEdges" x="720" y="908.5" width="5" height="7"/>
<rect class="f" shape-rendering="crispEdges" x="725" y="906" width="16.6" height="11"/>
<rect class="f" shape-rendering="crispEdges" x="665" y="882.5" width="10" height="7.5"/>
<rect class="f" shape-rendering="crispEdges" x="709.7" y="882.5" width="10.3" height="7.5"/>
<path class="t" stroke-width="8.5" d="M741.6 911.5C751.3 909.5 783.6 902.2 800 899.5C816.4 896.8 826.3 896.1 840 895C853.7 893.9 875.3 893.3 882.4 893"/>
<path class="ti" stroke-width="6.5" d="M741.6 911.5C751.3 909.5 783.6 902.2 800 899.5C816.4 896.8 826.3 896.1 840 895C853.7 893.9 875.3 893.3 882.4 893"/>
<path class="c" d="M741.6 911.5C751.3 909.5 783.6 902.2 800 899.5C816.4 896.8 826.3 896.1 840 895C853.7 893.9 875.3 893.3 882.4 893"/>
<rect class="f" shape-rendering="crispEdges" x="882.4" y="888" width="12.6" height="11.4"/>
<circle class="f" cx="902.8" cy="893.8" r="5"/>
<circle class="s" cx="902.8" cy="893.8" r="2.8"/>
<path class="t" stroke-width="14.5" d="M668 934.6L640 934.6Q622.3 934.6 622.3 958"/>
<path class="ti" stroke-width="12.5" d="M668 934.6L640 934.6Q622.3 934.6 622.3 958"/>
<path class="s" d="M634.4 927.4Q629 934.6 634.4 941.8"/>
<rect class="f" shape-rendering="crispEdges" x="615.3" y="960.4" width="14.7" height="3.8"/>
<path class="f" d="M695 942.5L681.6 950.3L668.2 942.5L668.2 927L681.6 919.3L695 927Z"/>
<circle class="s" cx="681.6" cy="934.8" r="9.8"/>
<circle class="s" cx="681.6" cy="934.8" r="8.6"/>
<rect class="f" shape-rendering="crispEdges" x="682" y="934" width="20" height="15"/>
<path class="s" shape-rendering="crispEdges" d="M690 934L690 949"/>
<g transform="translate(693.4 955.9) rotate(90)"><rect class="f" x="-7" y="-13.7" width="14" height="27.4" rx="1.5"/><path class="s" d="M-7 -6.8L7 -6.8M-7 6.8L7 6.8"/></g>
<rect class="f" x="683" y="965.5" width="21" height="5.1" rx="1.5"/>
<path class="s" shape-rendering="crispEdges" d="M693.5 965.5L693.5 970.6"/>
<path class="t" stroke-width="8.5" d="M705 930C706.8 932.3 709.8 937 716 944C722.2 951 737.2 964.3 742 972C746.8 979.7 746.8 983.8 745 990C743.2 996.2 736.9 1004.8 731 1009C725.1 1013.2 713.2 1014 709.7 1015"/>
<path class="ti" stroke-width="6.5" d="M705 930C706.8 932.3 709.8 937 716 944C722.2 951 737.2 964.3 742 972C746.8 979.7 746.8 983.8 745 990C743.2 996.2 736.9 1004.8 731 1009C725.1 1013.2 713.2 1014 709.7 1015"/>
<path class="c" d="M705 930C706.8 932.3 709.8 937 716 944C722.2 951 737.2 964.3 742 972C746.8 979.7 746.8 983.8 745 990C743.2 996.2 736.9 1004.8 731 1009C725.1 1013.2 713.2 1014 709.7 1015"/>
<rect class="f" x="-9" y="-5" width="18" height="10" transform="translate(707 932.5) rotate(48)"/>
<path class="s" d="M708 947L730 980"/>
<path class="s" d="M718 976L722 982L728 977"/>
<path class="f" d="M745 927.8L772.2 927.8L772.2 939.3L745 939.3Q741.6 939.3 741.6 933.5Q741.6 927.8 745 927.8Z"/>
<ellipse class="s" cx="744.2" cy="933.5" rx="1.6" ry="4.2"/>
<rect class="f" shape-rendering="crispEdges" x="758.8" y="939.3" width="13.4" height="16"/>
<g transform="translate(765.2 961.6) rotate(90)"><rect class="f" x="-6.3" y="-11.5" width="12.7" height="23" rx="1.5"/><path class="s" d="M-6.3 -5.8L6.3 -5.8M-6.3 5.8L6.3 5.8"/></g>
<rect class="f" x="757" y="971.8" width="16.6" height="5.2" rx="1.5"/>
<path class="f" d="M754.3 977L776.7 977L776.7 981A11.2 11.2 0 0 1 754.3 981Z"/>
<g transform="translate(781 933.5) rotate(0)"><rect class="f" x="-7.7" y="-4.8" width="15.3" height="9.6" rx="1.5"/><path class="s" d="M-7.7 -2.4L7.7 -2.4M-7.7 2.4L7.7 2.4"/></g>
<rect class="f" shape-rendering="crispEdges" x="788.8" y="930.5" width="3" height="6"/>
<path class="t" stroke-width="8.5" d="M804.6 934C812.7 934.4 840.1 937.8 853 936.5C865.9 935.2 874.5 929.4 882 926.5C889.5 923.6 895.3 920.2 898 919"/>
<path class="ti" stroke-width="6.5" d="M804.6 934C812.7 934.4 840.1 937.8 853 936.5C865.9 935.2 874.5 929.4 882 926.5C889.5 923.6 895.3 920.2 898 919"/>
<path class="c" d="M804.6 934C812.7 934.4 840.1 937.8 853 936.5C865.9 935.2 874.5 929.4 882 926.5C889.5 923.6 895.3 920.2 898 919"/>
<rect class="f" shape-rendering="crispEdges" x="790.5" y="928.3" width="14.1" height="11.2"/>
<rect class="f" x="832.7" y="909.6" width="20.3" height="17.9" rx="3"/>
<path class="f" d="M853 907L868.4 907L868.4 930L853 930Z"/>
<path class="s" shape-rendering="crispEdges" d="M853 913L868.4 913"/>
<path class="s" shape-rendering="crispEdges" d="M853 924L868.4 924"/>
<ellipse class="s" cx="856" cy="918.5" rx="3" ry="8"/>
<rect class="f" shape-rendering="crispEdges" x="868.4" y="911" width="10" height="15"/>
<path class="t" stroke-width="8" d="M878 918.5L898 917.5"/>
<path class="ti" stroke-width="6" d="M878 918.5L898 917.5"/>
<circle class="f" cx="902.8" cy="917.3" r="5"/>
<circle class="s" cx="902.8" cy="917.3" r="2.8"/>
<rect class="f" x="567.7" y="970" width="16" height="6.5" rx="1"/>
<rect class="f" shape-rendering="crispEdges" x="560" y="1007" width="14.7" height="18"/>
<rect class="f" x="567.7" y="1052.3" width="18.3" height="8.3" rx="1"/>
<path class="s" d="M560 1007L574.7 1025"/>
<path class="s" d="M560 1025L574.7 1007"/>
<rect class="f" shape-rendering="crispEdges" x="581" y="968" width="5.8" height="96"/>
<rect class="f" shape-rendering="crispEdges" x="586.8" y="968" width="57.4" height="95.8"/>
<rect class="s" shape-rendering="crispEdges" x="577" y="990" width="4" height="52"/>
<path class="s" shape-rendering="crispEdges" d="M598.3 968L598.3 1063.8"/>
<path class="g" shape-rendering="crispEdges" d="M606.6 968L606.6 1063.8"/>
<path class="s" shape-rendering="crispEdges" d="M609.1 968L609.1 1063.8"/>
<path class="s" shape-rendering="crispEdges" d="M619.3 968L619.3 1063.8"/>
<path class="g" shape-rendering="crispEdges" d="M623.2 968L623.2 1063.8"/>
<path class="s" shape-rendering="crispEdges" d="M634 968L634 1063.8"/>
<path class="g" shape-rendering="crispEdges" d="M636.5 968L636.5 1063.8"/>
<path class="s" shape-rendering="crispEdges" d="M639.8 968L639.8 1063.8"/>
<path class="s" stroke-width="1.8" d="M641.5 968L641.5 984M641.5 1048L641.5 1063.8"/>
<path class="s" shape-rendering="crispEdges" d="M586.8 1010L636 1010"/>
<path class="s" shape-rendering="crispEdges" d="M586.8 1018.5L636 1018.5"/>
<rect class="f" shape-rendering="crispEdges" x="609.6" y="962" width="24.2" height="6"/>
<rect class="s" shape-rendering="crispEdges" x="612" y="964.2" width="19" height="3.8"/>
<path class="f" d="M628 1005Q628 995 636 995L636 1003Q630 1006 632 1012L637 1014L637 1021Q630 1022 630 1030Q628 1035 622 1033L620 1020L600 1020L600 1010L620 1010Z"/>
<rect class="f" shape-rendering="crispEdges" x="636.4" y="984" width="10.2" height="64.5"/>
<rect class="s" x="638.7" y="986.4" width="5.4" height="5.2" rx="1.5"/>
<rect class="s" x="638.7" y="997.4" width="5.4" height="5.2" rx="1.5"/>
<rect class="s" x="638.7" y="1029.3" width="5.4" height="5.2" rx="1.5"/>
<rect class="s" x="638.7" y="1040.8" width="5.4" height="5.2" rx="1.5"/>
<path class="s" stroke-width="2" d="M640 1007Q637 1014 640 1021"/>
<rect class="f" x="638" y="1007" width="12" height="14" rx="2"/>
<rect class="f" shape-rendering="crispEdges" x="675.3" y="972.5" width="36.9" height="8.3"/>
<rect class="f" shape-rendering="crispEdges" x="667" y="980.8" width="27.4" height="10.2"/>
<rect class="s" shape-rendering="crispEdges" x="694.4" y="980.8" width="18" height="10.2"/>
<rect class="f" shape-rendering="crispEdges" x="661.9" y="991" width="52.3" height="63.8"/>
<path class="s" d="M661.9 1008.8L661.9 1000Q664 992.5 676.5 992.5L687 992.5Q693 1001.5 703 999Q712 996 713.5 1008.8"/>
<circle class="s" cx="680.4" cy="996.7" r="3.4"/>
<path class="s" d="M661.9 1020Q666 1028 671.4 1028Q676 1040 686 1044Q699 1040 703 1030.5Q711 1028 713.5 1020"/>
<path class="s" d="M692.2 1035.6L689.5 1040.4L684 1040.4L681.2 1035.6L684 1030.8L689.5 1030.8Z"/>
<circle class="s" cx="686.7" cy="1035.6" r="2.2"/>
<path class="s" shape-rendering="crispEdges" d="M661.9 1008.8L713.5 1008.8"/>
<path class="s" shape-rendering="crispEdges" d="M661.9 1020L713.5 1020"/>
<rect class="f" shape-rendering="crispEdges" x="650" y="1009.5" width="8" height="9.5"/>
<rect class="f" shape-rendering="crispEdges" x="658" y="1011" width="6.5" height="6.5"/>
<rect class="f" shape-rendering="crispEdges" x="664.5" y="1009" width="15" height="11"/>
<g transform="translate(684 1014.4) rotate(0)"><rect class="f" x="-5.2" y="-5.8" width="10.3" height="11.5" rx="1.5"/><path class="s" d="M-5.2 -2.9L5.2 -2.9M-5.2 2.9L5.2 2.9"/></g>
<rect class="f" shape-rendering="crispEdges" x="689.3" y="1011.5" width="5" height="6"/>
<rect class="f" shape-rendering="crispEdges" x="694.4" y="1008.8" width="15.3" height="10.2"/>
<circle class="dot" cx="672.2" cy="1010.2" r="1.4"/>
<rect class="f" shape-rendering="crispEdges" x="723" y="980.8" width="16.7" height="26.8"/>
<circle class="s" cx="732" cy="990.3" r="4.5"/>
<path class="s" shape-rendering="crispEdges" d="M646.6 981.4L675.3 981.4"/>
<path class="s" shape-rendering="crispEdges" d="M714.2 1007.6L744 1007.6"/>
<path class="s" shape-rendering="crispEdges" d="M714.2 1012.7L783.6 1012.7"/>
<path class="s" shape-rendering="crispEdges" d="M744 1017L783.6 1017"/>
<path class="s" shape-rendering="crispEdges" d="M714.8 1024L757 1024"/>
<path class="s" shape-rendering="crispEdges" d="M712.2 981.4L723 981.4"/>
<path class="s" shape-rendering="crispEdges" d="M739.7 981.4L785.5 981.4"/>
<rect class="f" shape-rendering="crispEdges" x="718" y="1031.9" width="42" height="26.8"/>
<path class="s" d="M748.5 1040.8L745.8 1045.6L740.2 1045.6L737.5 1040.8L740.2 1036L745.8 1036Z"/>
<circle class="s" cx="743" cy="1040.8" r="2"/>
<path class="s" shape-rendering="crispEdges" d="M700 1054.8L718 1054.8"/>
<path class="s" shape-rendering="crispEdges" d="M760 1040L785.5 1040"/>
<path class="s" shape-rendering="crispEdges" d="M760 1050L785.5 1050"/>
<path class="c" d="M747 1040L790 1028"/>
<rect class="f" shape-rendering="crispEdges" x="681" y="1054.8" width="34" height="10.2"/>
<path class="s" shape-rendering="crispEdges" d="M690 1054.8L690 1065"/>
<path class="s" shape-rendering="crispEdges" d="M698 1054.8L698 1065"/>
<rect class="f" shape-rendering="crispEdges" x="687.5" y="1065" width="20.5" height="7.7"/>
<path class="f" d="M687.5 1072.7L708 1072.7L708 1088Q708 1098.2 698 1098.2L680 1098.2L672 1094L672 1079L680 1075L687.5 1075Z"/>
<path class="s" shape-rendering="crispEdges" d="M697.5 1072.7L697.5 1098.2"/>
<path class="s" shape-rendering="crispEdges" d="M687.5 1075L687.5 1098.2"/>
<path class="f" d="M687 1086.7L682 1095.4L672 1095.4L667 1086.7L672 1078L682 1078Z"/>
<path class="s" d="M681 1077Q686 1087 681 1096.5"/>
<circle class="s" cx="662.5" cy="1088" r="8.3"/>
<path class="s" d="M655 1084Q640 1070 636 1063.8M668 1080Q654 1066 648 1048"/>
<path class="c" d="M645 1064L664 1086"/>
<g transform="translate(737 1072.7) rotate(90)"><rect class="f" x="-11.5" y="-14.3" width="23" height="28.7" rx="1.5"/><path class="s" d="M-11.5 -7.2L11.5 -7.2M-11.5 7.2L11.5 7.2"/></g>
<rect class="f" x="724" y="1084.2" width="26" height="5.1" rx="2"/>
<g transform="translate(737.3 1097.6) rotate(90)"><rect class="f" x="-8.3" y="-14" width="16.6" height="28" rx="1.5"/><path class="s" d="M-8.3 -7L8.3 -7M-8.3 7L8.3 7"/></g>
<path class="f" d="M727 1105.9L749 1105.9L752 1112L752 1124L742 1132.6L734 1130L727 1118Z"/>
<path class="s" d="M749 1106L755 1109L757 1122L748 1131M733 1106L733 1118L741 1127"/>
<path class="s" d="M752 1112L758 1108L762 1120L754 1131L742 1132.6"/>
<path class="s" shape-rendering="crispEdges" d="M727 1114L751 1114"/>
<path class="t" stroke-width="6.5" d="M902.8 893.8L818.3 1113"/>
<path class="ti" stroke-width="4.5" d="M902.8 893.8L818.3 1113"/>
<path class="c" d="M902.8 893.8L818.3 1113"/>
<path class="t" stroke-width="6.5" d="M902.8 917.3L822 1138.5"/>
<path class="ti" stroke-width="4.5" d="M902.8 917.3L822 1138.5"/>
<path class="c" d="M902.8 917.3L822 1138.5"/>
<rect class="f" shape-rendering="crispEdges" x="785.5" y="968.3" width="61.2" height="96.3"/>
<rect class="f" shape-rendering="crispEdges" x="846.7" y="968" width="5.8" height="96.6"/>
<path class="s" stroke-width="1.8" d="M790.6 968.3L790.6 984M793.8 968.3L793.8 984M797 968.3L797 992M799.5 968.3L799.5 992M790.6 1048L790.6 1064.6M793.8 1048L793.8 1064.6M797 1040L797 1064.6"/>
<path class="s" shape-rendering="crispEdges" d="M807.2 968.3L807.2 1064.6"/>
<path class="g" shape-rendering="crispEdges" d="M810.4 968.3L810.4 1064.6"/>
<path class="s" shape-rendering="crispEdges" d="M821.2 968.3L821.2 1064.6"/>
<path class="g" shape-rendering="crispEdges" d="M825 968.3L825 1064.6"/>
<path class="s" shape-rendering="crispEdges" d="M831.4 968.3L831.4 1064.6"/>
<path class="s" shape-rendering="crispEdges" d="M831.4 1010.4L846.7 1010.4"/>
<path class="s" shape-rendering="crispEdges" d="M811 1018.7L831.4 1018.7"/>
<path class="g" shape-rendering="crispEdges" d="M831.4 1026L846.7 1026"/>
<rect class="f" shape-rendering="crispEdges" x="783.6" y="983.6" width="10.2" height="64.4"/>
<rect class="s" x="786.3" y="986.4" width="5.4" height="5.2" rx="1.5"/>
<rect class="s" x="786.3" y="997.4" width="5.4" height="5.2" rx="1.5"/>
<rect class="s" x="786.3" y="1029.4" width="5.4" height="5.2" rx="1.5"/>
<rect class="s" x="786.3" y="1040.9" width="5.4" height="5.2" rx="1.5"/>
<circle class="dot" cx="789" cy="1016" r="3.6"/>
<path class="s" d="M783.6 997Q775 997 775 1003L775 1008Q770 1012 772 1020Q776 1028 783.6 1028"/>
<path class="f" d="M793.8 1010L802 1010L805 1013L813 1013L813 1019L803 1019L798 1022L795 1030L793.8 1036"/>
<path class="s" d="M800 998Q805 1000 804 1006L808 1010"/>
<circle class="dot" cx="827.5" cy="1035.5" r="1.4"/>
<path class="s" d="M796 1042L803 1043.5"/>
<path class="s" shape-rendering="crispEdges" d="M796 1050L810 1050"/>
<rect class="f" shape-rendering="crispEdges" x="852.5" y="984.9" width="72" height="63.7"/>
<path class="s" shape-rendering="crispEdges" d="M852.5 999.5L924.5 999.5"/>
<path class="s" shape-rendering="crispEdges" d="M852.5 1032.7L924.5 1032.7"/>
<path class="s" shape-rendering="crispEdges" d="M852.5 1037.2L924.5 1037.2"/>
<path class="s" shape-rendering="crispEdges" d="M908.6 984.9L908.6 1048.6"/>
<path class="s" stroke-width="1.6" d="M862 984.5L924.5 984.5M906 989.5L924.5 989.5M924.5 1033L931 1033"/>
<rect class="f" shape-rendering="crispEdges" x="853" y="968.3" width="13" height="16"/>
<rect class="f" x="857.7" y="971" width="5" height="10" rx="1"/>
<rect class="f" shape-rendering="crispEdges" x="867" y="968.3" width="6.5" height="16"/>
<rect class="f" shape-rendering="crispEdges" x="876" y="968.3" width="15.4" height="16"/>
<rect class="f" shape-rendering="crispEdges" x="852.5" y="1049" width="9.5" height="15"/>
<rect class="f" x="855.5" y="1051" width="5.5" height="11" rx="1"/>
<rect class="f" shape-rendering="crispEdges" x="863" y="1049" width="6.5" height="15"/>
<path class="s" shape-rendering="crispEdges" d="M924.5 984.9L924.5 1048.6"/>
<path class="c" d="M826 1058L893 1020"/>
<path class="s" d="M875.5 984L847.4 1063.6"/>
<path class="g" d="M878.5 984L850.4 1063.6"/>
<path class="t" stroke-width="21" d="M762 1095C768.3 1092.7 787.3 1085.5 800 1081C812.7 1076.5 831.7 1070.2 838 1068"/>
<path class="ti" stroke-width="19" d="M762 1095C768.3 1092.7 787.3 1085.5 800 1081C812.7 1076.5 831.7 1070.2 838 1068"/>
<path class="c" d="M762 1095C768.3 1092.7 787.3 1085.5 800 1081C812.7 1076.5 831.7 1070.2 838 1068"/>
<path class="t" stroke-width="21" d="M764.5 1117.5C773.8 1114.2 802.8 1104 820 1098C837.2 1092 860 1084.2 868 1081.5"/>
<path class="ti" stroke-width="19" d="M764.5 1117.5C773.8 1114.2 802.8 1104 820 1098C837.2 1092 860 1084.2 868 1081.5"/>
<path class="c" d="M764.5 1117.5C773.8 1114.2 802.8 1104 820 1098C837.2 1092 860 1084.2 868 1081.5"/>
<path class="s" d="M864.5 1071.5Q870 1081 868.5 1092.5"/>
<path class="s" d="M757 1086A11 11 0 0 0 761 1106M759 1108A11 11 0 0 0 763 1128"/>
<path class="t" stroke-width="6.5" d="M837 1064.6L818.3 1113"/>
<path class="ti" stroke-width="4.5" d="M837 1064.6L818.3 1113"/>
<path class="c" d="M837 1064.6L818.3 1113"/>
<path class="t" stroke-width="6.5" d="M849 1064.6L822 1138.5"/>
<path class="ti" stroke-width="4.5" d="M849 1064.6L822 1138.5"/>
<path class="c" d="M849 1064.6L822 1138.5"/>
<path class="s" shape-rendering="crispEdges" d="M785.5 1064.6L852.5 1064.6"/>
</g>
<g id="p_bottom_right">
<rect class="f" x="816.6" y="798.7" width="21.2" height="43.3" rx="1.5"/>
<rect class="f" shape-rendering="crispEdges" x="813.5" y="840" width="27.5" height="3.3"/>
<path class="s" stroke-dasharray="60 5" d="M747 847L921 847"/>
<path class="s" shape-rendering="crispEdges" d="M746 860L919 860"/>
<rect class="f" x="788" y="839.5" width="14" height="6.8" rx="1.5"/>
<rect class="f" shape-rendering="crispEdges" x="790.5" y="846.3" width="9" height="16.5"/>
<path class="s" shape-rendering="crispEdges" d="M795 839.5L795 846.3"/>
<rect class="f" x="851.2" y="839.5" width="14" height="6.8" rx="1.5"/>
<rect class="f" shape-rendering="crispEdges" x="853.7" y="846.3" width="9" height="16.5"/>
<path class="s" shape-rendering="crispEdges" d="M858.2 839.5L858.2 846.3"/>
<path class="s" d="M786 862L786 874"/>
<path class="s" d="M867 862L867 874"/>
<path class="g" shape-rendering="crispEdges" d="M790 862L790 874"/>
<path class="g" shape-rendering="crispEdges" d="M863 862L863 874"/>
<rect class="s" shape-rendering="crispEdges" x="771.4" y="874" width="109.6" height="29.5"/>
<path class="s" shape-rendering="crispEdges" d="M779 874L779 910"/>
<path class="s" shape-rendering="crispEdges" d="M873.5 874L873.5 925"/>
<path class="s" shape-rendering="crispEdges" d="M771.4 874L771.4 905"/>
<path class="s" shape-rendering="crispEdges" d="M881 874L881 968"/>
<rect class="s" shape-rendering="crispEdges" x="788" y="890.5" width="24" height="12.5"/>
<rect class="f" shape-rendering="crispEdges" x="801.8" y="869.5" width="3" height="11.5"/>
<rect class="f" shape-rendering="crispEdges" x="799.7" y="877" width="7.2" height="3.2"/>
<circle class="dot" cx="803.3" cy="872" r="1.2"/>
<rect class="f" shape-rendering="crispEdges" x="824" y="869.5" width="3" height="11.5"/>
<rect class="f" shape-rendering="crispEdges" x="821.9" y="877" width="7.2" height="3.2"/>
<circle class="dot" cx="825.5" cy="872" r="1.2"/>
<rect class="f" shape-rendering="crispEdges" x="845.9" y="869.5" width="3" height="11.5"/>
<rect class="f" shape-rendering="crispEdges" x="843.8" y="877" width="7.2" height="3.2"/>
<circle class="dot" cx="847.4" cy="872" r="1.2"/>
<path class="s" shape-rendering="crispEdges" d="M803.3 879L847.4 879"/>
<rect class="s" x="765.5" y="901" width="11" height="4.5" rx="2"/>
<rect class="f" shape-rendering="crispEdges" x="870.3" y="1049.3" width="77.2" height="58.7"/>
<path class="s" shape-rendering="crispEdges" d="M870.3 1065.2L947.5 1065.2"/>
<path class="s" shape-rendering="crispEdges" d="M870.3 1075.4L947.5 1075.4"/>
<path class="s" shape-rendering="crispEdges" d="M872 1097L947.5 1097"/>
<path class="g" shape-rendering="crispEdges" d="M909 1049.3L909 1065.2"/>
<path class="s" d="M924.5 1033.5L947.5 1033.5L947.5 1075M926 1000Q934 1008 931 1012"/>
<path class="s" d="M943 1034Q947 1056 918 1068"/>
<rect class="f" shape-rendering="crispEdges" x="862" y="1108" width="98" height="51"/>
<rect class="f" shape-rendering="crispEdges" x="855" y="1106" width="7" height="53"/>
<rect class="s" shape-rendering="crispEdges" x="871.5" y="1108" width="21" height="33"/>
<rect class="s" shape-rendering="crispEdges" x="925.5" y="1108" width="21.5" height="33"/>
<path class="g" shape-rendering="crispEdges" d="M954 1108L954 1159"/>
<rect class="f" shape-rendering="crispEdges" x="884.7" y="1146" width="2.6" height="12"/>
<rect class="f" shape-rendering="crispEdges" x="882.6" y="1148.5" width="6.8" height="3"/>
<circle class="dot" cx="886" cy="1147" r="1.2"/>
<rect class="f" shape-rendering="crispEdges" x="906.2" y="1146" width="2.6" height="12"/>
<rect class="f" shape-rendering="crispEdges" x="904.1" y="1148.5" width="6.8" height="3"/>
<circle class="dot" cx="907.5" cy="1147" r="1.2"/>
<rect class="f" shape-rendering="crispEdges" x="927.7" y="1146" width="2.6" height="12"/>
<rect class="f" shape-rendering="crispEdges" x="925.6" y="1148.5" width="6.8" height="3"/>
<circle class="dot" cx="929" cy="1147" r="1.2"/>
<path class="s" shape-rendering="crispEdges" d="M886 1152.5L929 1152.5"/>
<path class="s" d="M868.5 1159L868.5 1171.5"/>
<path class="s" d="M947 1159L947 1171.5"/>
<path class="g" shape-rendering="crispEdges" d="M872.5 1159L872.5 1171.5"/>
<path class="g" shape-rendering="crispEdges" d="M943 1159L943 1171.5"/>
<path class="s" shape-rendering="crispEdges" d="M799 1172.5L990 1172.5"/>
<path class="s" stroke-dasharray="46 6" d="M799 1185.5L989 1185.5"/>
<rect class="f" shape-rendering="crispEdges" x="873.3" y="1159" width="8.4" height="27"/>
<rect class="f" x="870.5" y="1186" width="14" height="6.8" rx="1.5"/>
<path class="s" shape-rendering="crispEdges" d="M877.5 1186L877.5 1192.8"/>
<rect class="f" shape-rendering="crispEdges" x="935.8" y="1159" width="8.4" height="27"/>
<rect class="f" x="933" y="1186" width="14" height="6.8" rx="1.5"/>
<path class="s" shape-rendering="crispEdges" d="M940 1186L940 1192.8"/>
<rect class="f" shape-rendering="crispEdges" x="895" y="1189" width="27" height="3.2"/>
<rect class="f" x="898.5" y="1192.2" width="20.6" height="42" rx="1.5"/>
<circle class="f" cx="823" cy="1113.5" r="5.2"/>
<circle class="s" cx="823" cy="1113.5" r="3"/>
<rect class="f" shape-rendering="crispEdges" x="828" y="1110.9" width="11" height="5.2"/>
<g transform="translate(845 1113.5) rotate(0)"><rect class="f" x="-5.2" y="-4.8" width="10.3" height="9.5" rx="1.5"/><path class="s" d="M-5.2 -2.4L5.2 -2.4M-5.2 2.4L5.2 2.4"/></g>
<rect class="f" shape-rendering="crispEdges" x="850.2" y="1109.8" width="4.8" height="7.4"/>
<circle class="f" cx="823" cy="1138.5" r="5.2"/>
<circle class="s" cx="823" cy="1138.5" r="3"/>
<rect class="f" shape-rendering="crispEdges" x="828" y="1135.9" width="11" height="5.2"/>
<g transform="translate(845 1138.5) rotate(0)"><rect class="f" x="-5.2" y="-4.8" width="10.3" height="9.5" rx="1.5"/><path class="s" d="M-5.2 -2.4L5.2 -2.4M-5.2 2.4L5.2 2.4"/></g>
<rect class="f" shape-rendering="crispEdges" x="850.2" y="1134.8" width="4.8" height="7.4"/>
<circle class="f" cx="902.8" cy="893.8" r="5"/>
<circle class="s" cx="902.8" cy="893.8" r="2.8"/>
<circle class="f" cx="902.8" cy="917.3" r="5"/>
<circle class="s" cx="902.8" cy="917.3" r="2.8"/>
<path class="t" stroke-width="14" d="M906.6 981.7L966 981.7"/>
<path class="ti" stroke-width="12" d="M906.6 981.7L966 981.7"/>
<path class="c" d="M906.6 981.7L966 981.7"/>
<path class="s" d="M966 974.7A7 7 0 0 1 966 988.7"/>
<rect class="f" x="-3.5" y="-5" width="7" height="10" transform="translate(946.5 995.5) rotate(-35)"/>
<rect class="f" x="-2.5" y="-4" width="5" height="8" transform="translate(943 1001) rotate(-35)"/>
<path class="t" stroke-width="9" d="M941 1003C939.5 1005.8 934.2 1013.8 932 1020C929.8 1026.2 928.7 1036.7 928 1040"/>
<path class="ti" stroke-width="7" d="M941 1003C939.5 1005.8 934.2 1013.8 932 1020C929.8 1026.2 928.7 1036.7 928 1040"/>
<path class="c" d="M941 1003C939.5 1005.8 934.2 1013.8 932 1020C929.8 1026.2 928.7 1036.7 928 1040"/>
</g>
<g id="p_leaders">
<path class="l" d="M110 60L120 174.7"/>
<circle class="dot" cx="120" cy="174.7" r="1.6"/>
<path class="l" d="M110 60L222 225.3"/>
<circle class="dot" cx="222" cy="225.3" r="1.6"/>
<path class="l" d="M215.3 60L288.3 224.5"/>
<circle class="dot" cx="288.3" cy="224.5" r="1.6"/>
<path class="l" d="M263 60L308.7 218.6"/>
<circle class="dot" cx="308.7" cy="218.6" r="1.6"/>
<path class="l" d="M312.7 60L306.4 125"/>
<circle class="dot" cx="306.4" cy="125" r="1.6"/>
<path class="l" d="M416.7 60L400.8 154.3"/>
<circle class="dot" cx="400.8" cy="154.3" r="1.6"/>
<path class="l" d="M510.7 60L526.5 111.5"/>
<circle class="dot" cx="526.5" cy="111.5" r="1.6"/>
<path class="l" d="M548.3 60L546.4 436.5"/>
<circle class="dot" cx="546.4" cy="436.5" r="1.6"/>
<path class="l" d="M749 60L738 506"/>
<circle class="dot" cx="738" cy="506" r="1.6"/>
<path class="l" d="M764.3 60L736.7 562"/>
<circle class="dot" cx="736.7" cy="562" r="1.6"/>
<path class="l" d="M925 60L875.8 521.2"/>
<circle class="dot" cx="875.8" cy="521.2" r="1.6"/>
<path class="l" d="M1104.3 60L1117 400"/>
<circle class="dot" cx="1117" cy="400" r="1.6"/>
<path class="l" d="M1171.7 60L1182.8 452"/>
<circle class="dot" cx="1182.8" cy="452" r="1.6"/>
<path class="l" d="M1345 60L1250.4 301.3"/>
<circle class="dot" cx="1250.4" cy="301.3" r="1.6"/>
<path class="l" d="M1413.3 60L1265.7 337.5"/>
<circle class="dot" cx="1265.7" cy="337.5" r="1.6"/>
<path class="l" d="M1485 60L1342 278.8"/>
<path class="l" d="M1485 60L1342 303"/>
<path class="l" d="M1519.6 226.5L1429.5 361.2"/>
<circle class="dot" cx="1429.5" cy="361.2" r="1.6"/>
<path class="l" d="M1520.5 378L1454.4 437"/>
<circle class="dot" cx="1454.4" cy="437" r="1.6"/>
<path class="l" d="M1516 518L1396 501"/>
<path class="l" d="M1514.3 611.6L1394 526"/>
<path class="l" d="M137.7 757L110 944"/>
<path class="l" d="M195 757L81.7 1164"/>
<circle class="dot" cx="81.7" cy="1164" r="1.6"/>
<path class="l" d="M195 757L114.2 1248"/>
<circle class="dot" cx="114.2" cy="1248" r="1.6"/>
<path class="l" d="M195 757L185 462.8"/>
<circle class="dot" cx="185" cy="462.8" r="1.6"/>
<path class="l" d="M268.3 757L178.6 434.7"/>
<path class="l" d="M351 757.5L317.6 364.5"/>
<circle class="dot" cx="317.6" cy="364.5" r="1.6"/>
<path class="l" d="M395.7 758.5L386 480"/>
<circle class="dot" cx="386" cy="480" r="1.6"/>
<path class="l" d="M538.3 759.3L578.6 651.2"/>
<circle class="dot" cx="578.6" cy="651.2" r="1.6"/>
<path class="l" d="M614 759.3L695.6 536.5"/>
<circle class="dot" cx="695.6" cy="536.5" r="1.6"/>
<path class="l" d="M626.7 759.3L612.8 831.8"/>
<circle class="dot" cx="612.8" cy="831.8" r="1.6"/>
<path class="l" d="M698.3 759.3L682.4 837.7"/>
<circle class="dot" cx="682.4" cy="837.7" r="1.6"/>
<path class="l" d="M734 759.8L691.5 903"/>
<path class="l" d="M734 759.8L700 914"/>
<path class="l" d="M807.7 759.8L742.6 972"/>
<circle class="dot" cx="742.6" cy="972" r="1.6"/>
<path class="l" d="M881.7 759.3L857.8 647"/>
<circle class="dot" cx="857.8" cy="647" r="1.6"/>
<path class="l" d="M966 759.5L909.2 540.5"/>
<circle class="dot" cx="909.2" cy="540.5" r="1.6"/>
<path class="l" d="M1104 759.5L1219.8 374.5"/>
<circle class="dot" cx="1219.8" cy="374.5" r="1.6"/>
<path class="l" d="M1178 759.5L1236.4 412.8"/>
<circle class="dot" cx="1236.4" cy="412.8" r="1.6"/>
<path class="l" d="M1204 759.5L1252.3 486.3"/>
<circle class="dot" cx="1252.3" cy="486.3" r="1.6"/>
<path class="l" d="M1358.7 759.5L1320.5 536.3"/>
<circle class="dot" cx="1320.5" cy="536.3" r="1.6"/>
<path class="l" d="M1396.4 759.5L1379.2 525.9"/>
<circle class="dot" cx="1379.2" cy="525.9" r="1.6"/>
<path class="l" d="M1027.8 923.7L826 873"/>
<path class="l" d="M1027.8 988L842.9 894.3"/>
<circle class="dot" cx="842.9" cy="894.3" r="1.6"/>
<path class="l" d="M266.7 1255.7L576.5 976.5"/>
<circle class="dot" cx="576.5" cy="976.5" r="1.6"/>
<path class="l" d="M350 1255.7L641.6 932.6"/>
<circle class="dot" cx="641.6" cy="932.6" r="1.6"/>
<path class="l" d="M540.7 1255.7L682.9 933.2"/>
<circle class="dot" cx="682.9" cy="933.2" r="1.6"/>
<path class="l" d="M663.3 1255.7L672.2 1010.2"/>
<circle class="dot" cx="672.2" cy="1010.2" r="1.6"/>
<path class="l" d="M773.3 1255.7L827.8 1035.2"/>
<circle class="dot" cx="827.8" cy="1035.2" r="1.6"/>
<path class="l" d="M966.7 1255.7L943.7 1189.8"/>
<path class="l" d="M1051.7 1255.7L845.4 916"/>
<circle class="dot" cx="845.4" cy="916" r="1.6"/>
<path class="l" d="M1146 1255.7L879.8 928.3"/>
<circle class="dot" cx="879.8" cy="928.3" r="1.6"/>
<path class="l" shape-rendering="crispEdges" d="M732 648.5L732 699.5"/>
<path class="dot" d="M732 648L733.6 666L730.4 666Z"/>
</g>
<g id="p_labels">
<text class="n" transform="translate(62.3 55.5) scale(0.53 1)">1</text>
<text class="n" transform="translate(97.7 55.5) scale(0.53 1)">2</text>
<path class="l" d="M50 60L73 60L80 67L87 60L110 60"/>
<text class="n" transform="translate(166.7 55.5) scale(0.53 1)">3</text>
<text class="n" transform="translate(203.3 55.5) scale(0.53 1)">4</text>
<path class="l" d="M156 60L178 60L185 67L192 60L215.3 60"/>
<text class="n" transform="translate(251.7 55.5) scale(0.53 1)">5</text>
<path class="l" d="M241 60L263 60"/>
<text class="n" transform="translate(324.3 55.5) scale(0.53 1)"><tspan class="pn" dy="-3.2">(</tspan><tspan dy="3.2" dx="1.5">2</tspan><tspan class="pn" dy="-3.2" dx="1.5">)</tspan></text>
<text class="n" transform="translate(360.7 55.5) scale(0.53 1)">6</text>
<text class="n" transform="translate(397.7 55.5) scale(0.53 1)">7</text>
<path class="l" d="M312.7 60L336.3 60L343.3 67L350.3 60L373 60L380 67L387 60L409 60"/>
<text class="n" transform="translate(429 55.5) scale(0.53 1)">8</text>
<path class="l" d="M416.7 60L440.7 60"/>
<text class="n" transform="translate(462.7 55.5) scale(0.53 1)"><tspan class="pn" dy="-3.2">(</tspan><tspan dy="3.2" dx="1.5">7</tspan><tspan class="pn" dy="-3.2" dx="1.5">)</tspan></text>
<text class="n" transform="translate(499 55.5) scale(0.53 1)">9</text>
<path class="l" d="M451.7 60L474 60L481 67L488 60L510.7 60"/>
<text class="n" transform="translate(560.7 55.5) scale(0.53 1)">10</text>
<text class="n" transform="translate(598.3 55.5) scale(0.53 1)">11</text>
<path class="l" d="M548.3 60L572 60L579 67L586 60L608.3 60"/>
<text class="n" transform="translate(627.3 55.5) scale(0.53 1)">12</text>
<text class="n" transform="translate(664 55.5) scale(0.53 1)">13</text>
<text class="n" transform="translate(700.7 55.5) scale(0.53 1)">14</text>
<text class="n" transform="translate(737.3 55.5) scale(0.53 1)">15</text>
<path class="l" d="M616 60L638.7 60L645.7 67L652.7 60L675.3 60L682.3 67L689.3 60L712 60L719 67L726 60L749 60"/>
<text class="n" transform="translate(780 55.5) scale(0.53 1)"><tspan class="pn" dy="-3.2">(</tspan><tspan dy="3.2" dx="1.5">13</tspan><tspan class="pn" dy="-3.2" dx="1.5">)</tspan></text>
<text class="n" transform="translate(822.7 55.5) scale(0.53 1)"><tspan class="pn" dy="-3.2">(</tspan><tspan dy="3.2" dx="1.5">14</tspan><tspan class="pn" dy="-3.2" dx="1.5">)</tspan></text>
<text class="n" transform="translate(865 55.5) scale(0.53 1)"><tspan class="pn" dy="-3.2">(</tspan><tspan dy="3.2" dx="1.5">15</tspan><tspan class="pn" dy="-3.2" dx="1.5">)</tspan></text>
<text class="n" transform="translate(903.3 55.5) scale(0.53 1)">16</text>
<path class="l" d="M764.3 60L794.7 60L801.7 67L808.7 60L837 60L844 67L851 60L879 60L886 67L893 60L915.7 60"/>
<text class="n" transform="translate(937.3 55.5) scale(0.53 1)">17</text>
<text class="n" transform="translate(974 55.5) scale(0.53 1)">18</text>
<text class="n" transform="translate(1010.7 55.5) scale(0.53 1)">19</text>
<text class="n" transform="translate(1046.7 55.5) scale(0.53 1)">20</text>
<text class="n" transform="translate(1084 55.5) scale(0.53 1)">21</text>
<path class="l" d="M925 60L948.7 60L955.7 67L962.7 60L985.3 60L992.3 67L999.3 60L1022 60L1029 67L1036 60L1058.7 60L1065.7 67L1072.7 60L1095 60"/>
<text class="n" transform="translate(1116.7 55.5) scale(0.53 1)">22</text>
<text class="n" transform="translate(1153.3 55.5) scale(0.53 1)">23</text>
<path class="l" d="M1104.3 60L1128 60L1135 67L1142 60L1164 60"/>
<text class="n" transform="translate(1186.7 55.5) scale(0.53 1)"><tspan class="pn" dy="-3.2">(</tspan><tspan dy="3.2" dx="1.5">13</tspan><tspan class="pn" dy="-3.2" dx="1.5">)</tspan></text>
<text class="n" transform="translate(1229.3 55.5) scale(0.53 1)"><tspan class="pn" dy="-3.2">(</tspan><tspan dy="3.2" dx="1.5">14</tspan><tspan class="pn" dy="-3.2" dx="1.5">)</tspan></text>
<text class="n" transform="translate(1271.7 55.5) scale(0.53 1)"><tspan class="pn" dy="-3.2">(</tspan><tspan dy="3.2" dx="1.5">15</tspan><tspan class="pn" dy="-3.2" dx="1.5">)</tspan></text>
<text class="n" transform="translate(1313.3 55.5) scale(0.53 1)"><tspan class="pn" dy="-3.2">(</tspan><tspan dy="3.2" dx="1.5">16</tspan><tspan class="pn" dy="-3.2" dx="1.5">)</tspan></text>
<path class="l" d="M1171.7 60L1203 60L1210 67L1217 60L1244.7 60L1251.7 67L1258.7 60L1286.3 60L1293.3 67L1300.3 60L1326.7 60"/>
<text class="n" transform="translate(1359 55.5) scale(0.53 1)"><tspan class="pn" dy="-3.2">(</tspan><tspan dy="3.2" dx="1.5">15</tspan><tspan class="pn" dy="-3.2" dx="1.5">)</tspan></text>
<text class="n" transform="translate(1397.7 55.5) scale(0.53 1)">24</text>
<path class="l" d="M1345 60L1373 60L1380 67L1387 60L1409 60"/>
<text class="n" transform="translate(1428.3 55.5) scale(0.53 1)"><tspan class="pn" dy="-3.2">(</tspan><tspan dy="3.2" dx="1.5">15</tspan><tspan class="pn" dy="-3.2" dx="1.5">)</tspan></text>
<text class="n" transform="translate(1467.3 55.5) scale(0.53 1)">25</text>
<path class="l" d="M1413.3 60L1442 60L1449 67L1456 60L1479 60"/>
<text class="n" transform="translate(1497.7 55.5) scale(0.53 1)">26</text>
<text class="n" transform="translate(1535 55.5) scale(0.53 1)">27</text>
<path class="l" d="M1485 60L1509.7 60L1516.7 67L1523.7 60L1545 60"/>
<text class="n" transform="translate(1534 102.5) scale(0.53 1)"><tspan class="pn" dy="-3.2">(</tspan><tspan dy="3.2" dx="1.5">15</tspan><tspan class="pn" dy="-3.2" dx="1.5">)</tspan></text>
<path class="l" shape-rendering="crispEdges" d="M1519.6 112.5L1541.6 112.5"/>
<path class="l" shape-rendering="crispEdges" d="M1519.6 112.5L1519.6 226.5"/>
<text class="n" transform="translate(1531 145.6) scale(0.53 1)">29</text>
<path class="l" shape-rendering="crispEdges" d="M1519.6 150.3L1541.6 150.3"/>
<text class="n" transform="translate(1531 181.2) scale(0.53 1)">30</text>
<path class="l" shape-rendering="crispEdges" d="M1519.6 188.3L1541.6 188.3"/>
<text class="n" transform="translate(1531 219.2) scale(0.53 1)">31</text>
<path class="l" shape-rendering="crispEdges" d="M1519.6 226.5L1548 226.5"/>
<text class="n" transform="translate(1534.5 258) scale(0.53 1)"><tspan class="pn" dy="-3.2">(</tspan><tspan dy="3.2" dx="1.5">15</tspan><tspan class="pn" dy="-3.2" dx="1.5">)</tspan></text>
<path class="l" shape-rendering="crispEdges" d="M1520.5 264.3L1542 264.3"/>
<path class="l" shape-rendering="crispEdges" d="M1520.5 264.3L1520.5 378"/>
<text class="n" transform="translate(1534.5 294.5) scale(0.53 1)"><tspan class="pn" dy="-3.2">(</tspan><tspan dy="3.2" dx="1.5">30</tspan><tspan class="pn" dy="-3.2" dx="1.5">)</tspan></text>
<path class="l" shape-rendering="crispEdges" d="M1520.5 302L1550 302"/>
<text class="n" transform="translate(1536 331.5) scale(0.53 1)"><tspan class="pn" dy="-3.2">(</tspan><tspan dy="3.2" dx="1.5">31</tspan><tspan class="pn" dy="-3.2" dx="1.5">)</tspan></text>
<path class="l" shape-rendering="crispEdges" d="M1520.5 340L1548 340"/>
<text class="n" transform="translate(1531.5 374.5) scale(0.53 1)">32</text>
<path class="l" shape-rendering="crispEdges" d="M1520.5 378L1548.6 378"/>
<text class="n" transform="translate(1529.8 514.2) scale(0.53 1)"><tspan class="pn" dy="-3.2">(</tspan><tspan dy="3.2" dx="1.5">11</tspan><tspan class="pn" dy="-3.2" dx="1.5">)</tspan></text>
<path class="l" shape-rendering="crispEdges" d="M1516 518L1544 518"/>
<path class="l" shape-rendering="crispEdges" d="M1516 518L1516 555.5"/>
<text class="n" transform="translate(1527.7 551.3) scale(0.53 1)">33</text>
<path class="l" shape-rendering="crispEdges" d="M1516 555.5L1538.6 555.5"/>
<text class="n" transform="translate(1529 607.6) scale(0.53 1)"><tspan class="pn" dy="-3.2">(</tspan><tspan dy="3.2" dx="1.5">11</tspan><tspan class="pn" dy="-3.2" dx="1.5">)</tspan></text>
<path class="l" shape-rendering="crispEdges" d="M1514.3 611.6L1543 611.6"/>
<path class="l" shape-rendering="crispEdges" d="M1514.3 611.6L1514.3 649.8"/>
<text class="n" transform="translate(1526.5 645.3) scale(0.53 1)">34</text>
<path class="l" shape-rendering="crispEdges" d="M1514.3 649.8L1538 649.8"/>
<text class="n" transform="translate(38.3 752) scale(0.53 1)">59</text>
<text class="n" transform="translate(82.7 752) scale(0.53 1)"><tspan class="pn" dy="-3.2">(</tspan><tspan dy="3.2" dx="1.5">47</tspan><tspan class="pn" dy="-3.2" dx="1.5">)</tspan></text>
<text class="n" transform="translate(123.3 752) scale(0.53 1)"><tspan class="pn" dy="-3.2">(</tspan><tspan dy="3.2" dx="1.5">46</tspan><tspan class="pn" dy="-3.2" dx="1.5">)</tspan></text>
<path class="l" d="M22.7 757L54.7 757L61.7 764L68.7 757L101.3 757L108.3 764L115.3 757L137.7 757"/>
<text class="n" transform="translate(206.7 752) scale(0.53 1)">58</text>
<text class="n" transform="translate(244 752) scale(0.53 1)"><tspan class="pn" dy="-3.2">(</tspan><tspan dy="3.2" dx="1.5">2</tspan><tspan class="pn" dy="-3.2" dx="1.5">)</tspan></text>
<path class="l" d="M195 757L219 757L226 764L233 757L255 757"/>
<text class="n" transform="translate(281 752) scale(0.53 1)">57</text>
<text class="n" transform="translate(317.7 752) scale(0.53 1)"><tspan class="pn" dy="-3.2">(</tspan><tspan dy="3.2" dx="1.5">2</tspan><tspan class="pn" dy="-3.2" dx="1.5">)</tspan></text>
<path class="l" d="M268.3 757L292 757L299 764L306 757L328.3 757"/>
<text class="n" transform="translate(361.7 752) scale(0.53 1)">56</text>
<path class="l" d="M351 757.5L371.7 757.5"/>
<text class="n" transform="translate(407.3 753.5) scale(0.53 1)">55</text>
<text class="n" transform="translate(445 753.5) scale(0.53 1)"><tspan class="pn" dy="-3.2">(</tspan><tspan dy="3.2" dx="1.5">2</tspan><tspan class="pn" dy="-3.2" dx="1.5">)</tspan></text>
<path class="l" d="M395.7 758.5L419 758.5L426 765.5L433 758.5L455.7 758.5"/>
<text class="n" transform="translate(479 754.5) scale(0.53 1)">54</text>
<text class="n" transform="translate(521 754.5) scale(0.53 1)"><tspan class="pn" dy="-3.2">(</tspan><tspan dy="3.2" dx="1.5">23</tspan><tspan class="pn" dy="-3.2" dx="1.5">)</tspan></text>
<path class="l" d="M468.3 759.3L490.7 759.3L497.7 766.3L504.7 759.3L538.3 759.3"/>
<text class="n" transform="translate(564.3 754.5) scale(0.53 1)">53</text>
<text class="n" transform="translate(601 754.5) scale(0.53 1)">52</text>
<path class="l" d="M554 759.3L576.3 759.3L583.3 766.3L590.3 759.3L614 759.3"/>
<text class="n" transform="translate(639 754.5) scale(0.53 1)">51</text>
<text class="n" transform="translate(676 754.5) scale(0.53 1)"><tspan class="pn" dy="-3.2">(</tspan><tspan dy="3.2" dx="1.5">2</tspan><tspan class="pn" dy="-3.2" dx="1.5">)</tspan></text>
<path class="l" d="M626.7 759.3L650.3 759.3L657.3 766.3L664.3 759.3L687.3 759.3"/>
<text class="n" transform="translate(710 754.5) scale(0.53 1)">50</text>
<path class="l" d="M698.3 759.3L721.7 759.3"/>
<text class="n" transform="translate(746 754.5) scale(0.53 1)">49</text>
<text class="n" transform="translate(785.7 754.5) scale(0.53 1)"><tspan class="pn" dy="-3.2">(</tspan><tspan dy="3.2" dx="1.5">11</tspan><tspan class="pn" dy="-3.2" dx="1.5">)</tspan></text>
<path class="l" d="M734 759.8L757.3 759.8L764.3 766.8L771.3 759.8L800 759.8"/>
<text class="n" transform="translate(820 754.5) scale(0.53 1)">48</text>
<text class="n" transform="translate(859.3 754.5) scale(0.53 1)"><tspan class="pn" dy="-3.2">(</tspan><tspan dy="3.2" dx="1.5">11</tspan><tspan class="pn" dy="-3.2" dx="1.5">)</tspan></text>
<path class="l" d="M807.7 759.8L830.7 759.8L837.7 766.8L844.7 759.8L873.3 759.8"/>
<text class="n" transform="translate(897.7 754.5) scale(0.53 1)"><tspan class="pn" dy="-3.2">(</tspan><tspan dy="3.2" dx="1.5">30</tspan><tspan class="pn" dy="-3.2" dx="1.5">)</tspan></text>
<text class="n" transform="translate(941.7 754.5) scale(0.53 1)"><tspan class="pn" dy="-3.2">(</tspan><tspan dy="3.2" dx="1.5">29</tspan><tspan class="pn" dy="-3.2" dx="1.5">)</tspan></text>
<path class="l" d="M881.7 759.3L914 759.3L921 766.3L928 759.3L956.7 759.3"/>
<text class="n" transform="translate(978.6 754.5) scale(0.53 1)">45</text>
<text class="n" transform="translate(1015.5 754.5) scale(0.53 1)">44</text>
<path class="l" d="M966 759.5L990.6 759.5L997.6 766.5L1004.6 759.5L1026.6 759.5"/>
<text class="n" transform="translate(1049 754.5) scale(0.53 1)">40</text>
<text class="n" transform="translate(1089.7 754.5) scale(0.53 1)"><tspan class="pn" dy="-3.2">(</tspan><tspan dy="3.2" dx="1.5">15</tspan><tspan class="pn" dy="-3.2" dx="1.5">)</tspan></text>
<path class="l" d="M1038 759.5L1062 759.5L1069 766.5L1076 759.5L1104 759.5"/>
<text class="n" transform="translate(1123.8 754.5) scale(0.53 1)">39</text>
<text class="n" transform="translate(1164.3 754.5) scale(0.53 1)"><tspan class="pn" dy="-3.2">(</tspan><tspan dy="3.2" dx="1.5">15</tspan><tspan class="pn" dy="-3.2" dx="1.5">)</tspan></text>
<path class="l" d="M1112.7 759.5L1136 759.5L1143 766.5L1150 759.5L1178 759.5"/>
<text class="n" transform="translate(1215 754.5) scale(0.53 1)">38</text>
<text class="n" transform="translate(1252.4 754.5) scale(0.53 1)">37</text>
<text class="n" transform="translate(1288.5 754.5) scale(0.53 1)">36</text>
<text class="n" transform="translate(1325.8 754.5) scale(0.53 1)"><tspan class="pn" dy="-3.2">(</tspan><tspan dy="3.2" dx="1.5">2</tspan><tspan class="pn" dy="-3.2" dx="1.5">)</tspan></text>
<path class="l" d="M1204 759.5L1226.7 759.5L1233.7 766.5L1240.7 759.5L1263.6 759.5L1270.6 766.5L1277.6 759.5L1300 759.5L1307 766.5L1314 759.5L1337 759.5"/>
<text class="n" transform="translate(1370.6 754.5) scale(0.53 1)">35</text>
<path class="l" d="M1358.7 759.5L1381.7 759.5"/>
<text class="n" transform="translate(1408.3 754.5) scale(0.53 1)">28</text>
<text class="n" transform="translate(1449 754.5) scale(0.53 1)"><tspan class="pn" dy="-3.2">(</tspan><tspan dy="3.2" dx="1.5">27</tspan><tspan class="pn" dy="-3.2" dx="1.5">)</tspan></text>
<text class="n" transform="translate(1494.4 754.5) scale(0.53 1)"><tspan class="pn" dy="-3.2">(</tspan><tspan dy="3.2" dx="1.5">26</tspan><tspan class="pn" dy="-3.2" dx="1.5">)</tspan></text>
<text class="n" transform="translate(1536.5 754.5) scale(0.53 1)"><tspan class="pn" dy="-3.2">(</tspan><tspan dy="3.2" dx="1.5">11</tspan><tspan class="pn" dy="-3.2" dx="1.5">)</tspan></text>
<path class="l" d="M1396.4 759.5L1420.4 759.5L1427.4 766.5L1434.4 759.5L1464.8 759.5L1471.8 766.5L1478.8 759.5L1510.5 759.5L1517.5 766.5L1524.5 759.5L1548.4 759.5"/>
<text class="n" transform="translate(1041.8 918.6) scale(0.53 1)">47</text>
<text class="n" transform="translate(1077.6 918.6) scale(0.53 1)">46</text>
<path class="l" d="M1027.8 923.7L1052.2 923.7L1059.2 930.7L1066.2 923.7L1089 923.7"/>
<text class="n" transform="translate(1040.6 983.6) scale(0.53 1)">43</text>
<text class="n" transform="translate(1079.6 983.6) scale(0.53 1)"><tspan class="pn" dy="-3.2">(</tspan><tspan dy="3.2" dx="1.5">11</tspan><tspan class="pn" dy="-3.2" dx="1.5">)</tspan></text>
<path class="l" d="M1027.8 988L1051.4 988L1058.4 995L1065.4 988L1094 988"/>
<text class="n" transform="translate(218.3 1251.7) scale(0.53 1)">60</text>
<text class="n" transform="translate(255.7 1251.7) scale(0.53 1)">61</text>
<path class="l" d="M206 1255.7L228.7 1255.7L235.7 1262.7L242.7 1255.7L266.7 1255.7"/>
<text class="n" transform="translate(299.3 1251.7) scale(0.53 1)"><tspan class="pn" dy="-3.2">(</tspan><tspan dy="3.2" dx="1.5">15</tspan><tspan class="pn" dy="-3.2" dx="1.5">)</tspan></text>
<text class="n" transform="translate(338.3 1251.7) scale(0.53 1)">62</text>
<path class="l" d="M286 1255.7L313.7 1255.7L320.7 1262.7L327.7 1255.7L350 1255.7"/>
<text class="n" transform="translate(400.7 1251.7) scale(0.53 1)"><tspan class="pn" dy="-3.2">(</tspan><tspan dy="3.2" dx="1.5">13</tspan><tspan class="pn" dy="-3.2" dx="1.5">)</tspan></text>
<text class="n" transform="translate(442.7 1251.7) scale(0.53 1)"><tspan class="pn" dy="-3.2">(</tspan><tspan dy="3.2" dx="1.5">14</tspan><tspan class="pn" dy="-3.2" dx="1.5">)</tspan></text>
<text class="n" transform="translate(483.3 1251.7) scale(0.53 1)"><tspan class="pn" dy="-3.2">(</tspan><tspan dy="3.2" dx="1.5">15</tspan><tspan class="pn" dy="-3.2" dx="1.5">)</tspan></text>
<text class="n" transform="translate(524.3 1251.7) scale(0.53 1)"><tspan class="pn" dy="-3.2">(</tspan><tspan dy="3.2" dx="1.5">16</tspan><tspan class="pn" dy="-3.2" dx="1.5">)</tspan></text>
<path class="l" d="M385.7 1255.7L413.7 1255.7L420.7 1262.7L427.7 1255.7L455.7 1255.7L462.7 1262.7L469.7 1255.7L497.3 1255.7L504.3 1262.7L511.3 1255.7L540.7 1255.7"/>
<text class="n" transform="translate(577.3 1251.7) scale(0.53 1)">63</text>
<text class="n" transform="translate(614 1251.7) scale(0.53 1)">64</text>
<text class="n" transform="translate(650 1251.7) scale(0.53 1)">65</text>
<path class="l" d="M566 1255.7L589 1255.7L596 1262.7L603 1255.7L625.7 1255.7L632.7 1262.7L639.7 1255.7L663.3 1255.7"/>
<text class="n" transform="translate(762.3 1251.7) scale(0.53 1)">67</text>
<path class="l" d="M751 1255.7L773.3 1255.7"/>
<text class="n" transform="translate(977.3 1251.7) scale(0.53 1)">69</text>
<text class="n" transform="translate(1014 1251.7) scale(0.53 1)">70</text>
<path class="l" d="M966.7 1255.7L989.7 1255.7L996.7 1262.7L1003.7 1255.7L1026.7 1255.7"/>
<text class="n" transform="translate(1062.7 1251.7) scale(0.53 1)">42</text>
<text class="n" transform="translate(1102.7 1251.7) scale(0.53 1)"><tspan class="pn" dy="-3.2">(</tspan><tspan dy="3.2" dx="1.5">11</tspan><tspan class="pn" dy="-3.2" dx="1.5">)</tspan></text>
<path class="l" d="M1051.7 1255.7L1074.7 1255.7L1081.7 1262.7L1088.7 1255.7L1116.7 1255.7"/>
<text class="n" transform="translate(1157.7 1251.7) scale(0.53 1)">41</text>
<text class="n" transform="translate(1197.3 1251.7) scale(0.53 1)"><tspan class="pn" dy="-3.2">(</tspan><tspan dy="3.2" dx="1.5">11</tspan><tspan class="pn" dy="-3.2" dx="1.5">)</tspan></text>
<path class="l" d="M1146 1255.7L1169.7 1255.7L1176.7 1262.7L1183.7 1255.7L1211 1255.7"/>
<text class="zs" x="327.5" y="165.5" textLength="41.5" lengthAdjust="spacingAndGlyphs">进油口</text>
<text class="zs" x="478" y="165" textLength="39" lengthAdjust="spacingAndGlyphs">出油口</text>
<text class="n" style="text-anchor:start" transform="translate(1202 207) scale(.55 1)">A</text>
<text class="zs" x="1211.5" y="206.5" style="font-size:19px" textLength="14" lengthAdjust="spacingAndGlyphs">向</text>
<text class="n" style="text-anchor:start;font-size:23px" transform="translate(704 681.5) scale(.5 1)">A</text>
</g>
<g id="p_watermark">
<text class="wm" x="517" y="684" textLength="814" lengthAdjust="spacingAndGlyphs">autopiter.ru</text>
<path class="wl" d="M367 536.5 C 455 536.5 486.5 575 486.5 646 C 486.5 722 455 756 367 756 C 280 756 247.5 722 247.5 646 C 247.5 575 280 536.5 367 536.5Z"/>
<text class="wm" x="276" y="690" style="font-size:170px">a</text>
<path class="wl" d="M405 601L456.7 646L405 692L392 673L420.5 646L392 618Z"/>
</g>
</svg>
</body></html>
